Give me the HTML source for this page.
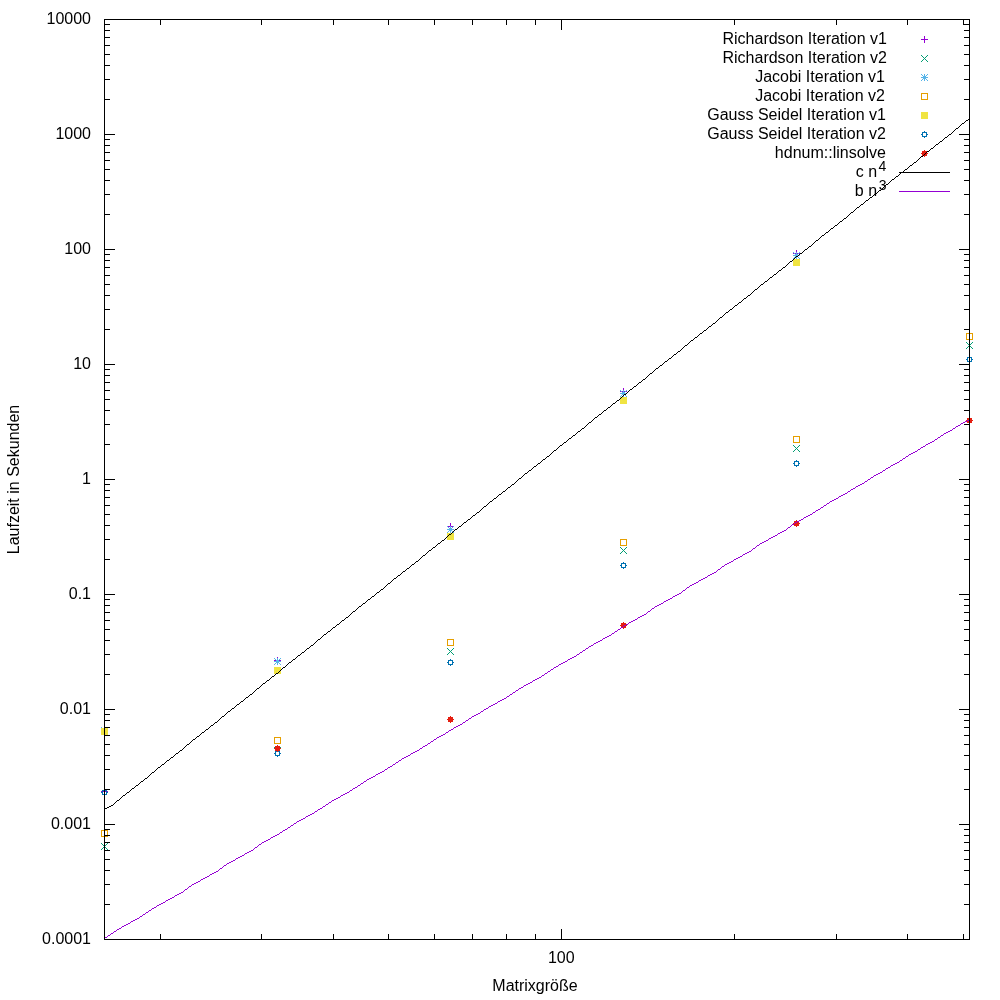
<!DOCTYPE html><html><head><meta charset="utf-8"><style>html,body{margin:0;padding:0;background:#fff;width:1000px;height:1000px;overflow:hidden}svg{display:block;will-change:transform}text{font-family:"Liberation Sans",sans-serif;font-size:16px;fill:#000}</style></head><body>
<svg width="1000" height="1000" viewBox="0 0 1000 1000">
<rect width="1000" height="1000" fill="#fff"/>
<path fill="#9400d3" d="M796 250h1v1h-1zM796 251h1v1h-1zM796 252h1v1h-1zM793 253h7v1h-7zM796 254h1v1h-1zM796 255h1v1h-1zM796 256h1v1h-1zM623 388h1v1h-1zM623 389h1v1h-1zM623 390h1v1h-1zM620 391h7v1h-7zM623 392h1v1h-1zM623 393h1v1h-1zM623 394h1v1h-1zM450 523h1v1h-1zM450 524h1v1h-1zM450 525h1v1h-1zM447 526h7v1h-7zM450 527h1v1h-1zM450 528h1v1h-1zM450 529h1v1h-1zM277 657h1v1h-1zM277 658h1v1h-1zM277 659h1v1h-1zM274 660h7v1h-7zM277 661h1v1h-1zM277 662h1v1h-1zM277 663h1v1h-1zM104 788h1v1h-1zM104 789h1v1h-1zM104 790h1v1h-1zM101 791h7v1h-7zM104 792h1v1h-1zM104 793h1v1h-1zM104 794h1v1h-1z"/>
<path fill="#009e73" d="M966 342h1v1h-1zM972 342h1v1h-1zM967 343h1v1h-1zM971 343h1v1h-1zM968 344h1v1h-1zM970 344h1v1h-1zM969 345h1v1h-1zM968 346h1v1h-1zM970 346h1v1h-1zM967 347h1v1h-1zM971 347h1v1h-1zM966 348h1v1h-1zM972 348h1v1h-1zM793 445h1v1h-1zM799 445h1v1h-1zM794 446h1v1h-1zM798 446h1v1h-1zM795 447h1v1h-1zM797 447h1v1h-1zM796 448h1v1h-1zM795 449h1v1h-1zM797 449h1v1h-1zM794 450h1v1h-1zM798 450h1v1h-1zM793 451h1v1h-1zM799 451h1v1h-1zM620 547h1v1h-1zM626 547h1v1h-1zM621 548h1v1h-1zM625 548h1v1h-1zM622 549h1v1h-1zM624 549h1v1h-1zM623 550h1v1h-1zM622 551h1v1h-1zM624 551h1v1h-1zM621 552h1v1h-1zM625 552h1v1h-1zM620 553h1v1h-1zM626 553h1v1h-1zM447 648h1v1h-1zM453 648h1v1h-1zM448 649h1v1h-1zM452 649h1v1h-1zM449 650h1v1h-1zM451 650h1v1h-1zM450 651h1v1h-1zM449 652h1v1h-1zM451 652h1v1h-1zM448 653h1v1h-1zM452 653h1v1h-1zM447 654h1v1h-1zM453 654h1v1h-1zM274 747h1v1h-1zM280 747h1v1h-1zM275 748h1v1h-1zM279 748h1v1h-1zM276 749h1v1h-1zM278 749h1v1h-1zM277 750h1v1h-1zM276 751h1v1h-1zM278 751h1v1h-1zM275 752h1v1h-1zM279 752h1v1h-1zM274 753h1v1h-1zM280 753h1v1h-1zM101 843h1v1h-1zM107 843h1v1h-1zM102 844h1v1h-1zM106 844h1v1h-1zM103 845h1v1h-1zM105 845h1v1h-1zM104 846h1v1h-1zM103 847h1v1h-1zM105 847h1v1h-1zM102 848h1v1h-1zM106 848h1v1h-1zM101 849h1v1h-1zM107 849h1v1h-1z"/>
<path fill="#56b4e9" d="M793 252h1v1h-1zM796 252h1v1h-1zM799 252h1v1h-1zM794 253h1v1h-1zM796 253h1v1h-1zM798 253h1v1h-1zM795 254h3v1h-3zM793 255h7v1h-7zM795 256h3v1h-3zM794 257h1v1h-1zM796 257h1v1h-1zM798 257h1v1h-1zM793 258h1v1h-1zM796 258h1v1h-1zM799 258h1v1h-1zM620 390h1v1h-1zM623 390h1v1h-1zM626 390h1v1h-1zM621 391h1v1h-1zM623 391h1v1h-1zM625 391h1v1h-1zM622 392h3v1h-3zM620 393h7v1h-7zM622 394h3v1h-3zM621 395h1v1h-1zM623 395h1v1h-1zM625 395h1v1h-1zM620 396h1v1h-1zM623 396h1v1h-1zM626 396h1v1h-1zM447 526h1v1h-1zM450 526h1v1h-1zM453 526h1v1h-1zM448 527h1v1h-1zM450 527h1v1h-1zM452 527h1v1h-1zM449 528h3v1h-3zM447 529h7v1h-7zM449 530h3v1h-3zM448 531h1v1h-1zM450 531h1v1h-1zM452 531h1v1h-1zM447 532h1v1h-1zM450 532h1v1h-1zM453 532h1v1h-1zM274 658h1v1h-1zM277 658h1v1h-1zM280 658h1v1h-1zM275 659h1v1h-1zM277 659h1v1h-1zM279 659h1v1h-1zM276 660h3v1h-3zM274 661h7v1h-7zM276 662h3v1h-3zM275 663h1v1h-1zM277 663h1v1h-1zM279 663h1v1h-1zM274 664h1v1h-1zM277 664h1v1h-1zM280 664h1v1h-1zM101 727h1v1h-1zM104 727h1v1h-1zM107 727h1v1h-1zM102 728h1v1h-1zM104 728h1v1h-1zM106 728h1v1h-1zM103 729h3v1h-3zM101 730h7v1h-7zM103 731h3v1h-3zM102 732h1v1h-1zM104 732h1v1h-1zM106 732h1v1h-1zM101 733h1v1h-1zM104 733h1v1h-1zM107 733h1v1h-1z"/>
<path fill="#e69f00" d="M966 333h7v1h-7zM966 334h1v1h-1zM972 334h1v1h-1zM966 335h1v1h-1zM972 335h1v1h-1zM966 336h1v1h-1zM972 336h1v1h-1zM966 337h1v1h-1zM972 337h1v1h-1zM966 338h1v1h-1zM972 338h1v1h-1zM966 339h7v1h-7zM793 436h7v1h-7zM793 437h1v1h-1zM799 437h1v1h-1zM793 438h1v1h-1zM799 438h1v1h-1zM793 439h1v1h-1zM799 439h1v1h-1zM793 440h1v1h-1zM799 440h1v1h-1zM793 441h1v1h-1zM799 441h1v1h-1zM793 442h7v1h-7zM620 539h7v1h-7zM620 540h1v1h-1zM626 540h1v1h-1zM620 541h1v1h-1zM626 541h1v1h-1zM620 542h1v1h-1zM626 542h1v1h-1zM620 543h1v1h-1zM626 543h1v1h-1zM620 544h1v1h-1zM626 544h1v1h-1zM620 545h7v1h-7zM447 639h7v1h-7zM447 640h1v1h-1zM453 640h1v1h-1zM447 641h1v1h-1zM453 641h1v1h-1zM447 642h1v1h-1zM453 642h1v1h-1zM447 643h1v1h-1zM453 643h1v1h-1zM447 644h1v1h-1zM453 644h1v1h-1zM447 645h7v1h-7zM274 737h7v1h-7zM274 738h1v1h-1zM280 738h1v1h-1zM274 739h1v1h-1zM280 739h1v1h-1zM274 740h1v1h-1zM280 740h1v1h-1zM274 741h1v1h-1zM280 741h1v1h-1zM274 742h1v1h-1zM280 742h1v1h-1zM274 743h7v1h-7zM101 830h7v1h-7zM101 831h1v1h-1zM107 831h1v1h-1zM101 832h1v1h-1zM107 832h1v1h-1zM101 833h1v1h-1zM107 833h1v1h-1zM101 834h1v1h-1zM107 834h1v1h-1zM101 835h1v1h-1zM107 835h1v1h-1zM101 836h7v1h-7z"/>
<path fill="#f0e442" d="M793 259h7v1h-7zM793 260h7v1h-7zM793 261h7v1h-7zM793 262h7v1h-7zM793 263h7v1h-7zM793 264h7v1h-7zM793 265h7v1h-7zM620 397h7v1h-7zM620 398h7v1h-7zM620 399h7v1h-7zM620 400h7v1h-7zM620 401h7v1h-7zM620 402h7v1h-7zM620 403h7v1h-7zM447 533h7v1h-7zM447 534h7v1h-7zM447 535h7v1h-7zM447 536h7v1h-7zM447 537h7v1h-7zM447 538h7v1h-7zM447 539h7v1h-7zM274 667h7v1h-7zM274 668h7v1h-7zM274 669h7v1h-7zM274 670h7v1h-7zM274 671h7v1h-7zM274 672h7v1h-7zM274 673h7v1h-7zM101 728h7v1h-7zM101 729h7v1h-7zM101 730h7v1h-7zM101 731h7v1h-7zM101 732h7v1h-7zM101 733h7v1h-7zM101 734h7v1h-7z"/>
<path fill="#0072b2" d="M969 356h1v1h-1zM967 357h5v1h-5zM967 358h1v1h-1zM971 358h1v1h-1zM966 359h2v1h-2zM971 359h2v1h-2zM967 360h1v1h-1zM971 360h1v1h-1zM967 361h5v1h-5zM969 362h1v1h-1zM796 460h1v1h-1zM794 461h5v1h-5zM794 462h1v1h-1zM798 462h1v1h-1zM793 463h2v1h-2zM798 463h2v1h-2zM794 464h1v1h-1zM798 464h1v1h-1zM794 465h5v1h-5zM796 466h1v1h-1zM623 562h1v1h-1zM621 563h5v1h-5zM621 564h1v1h-1zM625 564h1v1h-1zM620 565h2v1h-2zM625 565h2v1h-2zM621 566h1v1h-1zM625 566h1v1h-1zM621 567h5v1h-5zM623 568h1v1h-1zM450 659h1v1h-1zM448 660h5v1h-5zM448 661h1v1h-1zM452 661h1v1h-1zM447 662h2v1h-2zM452 662h2v1h-2zM448 663h1v1h-1zM452 663h1v1h-1zM448 664h5v1h-5zM450 665h1v1h-1zM277 750h1v1h-1zM275 751h5v1h-5zM275 752h1v1h-1zM279 752h1v1h-1zM274 753h2v1h-2zM279 753h2v1h-2zM275 754h1v1h-1zM279 754h1v1h-1zM275 755h5v1h-5zM277 756h1v1h-1zM104 789h1v1h-1zM102 790h5v1h-5zM102 791h1v1h-1zM106 791h1v1h-1zM101 792h2v1h-2zM106 792h2v1h-2zM102 793h1v1h-1zM106 793h1v1h-1zM102 794h5v1h-5zM104 795h1v1h-1z"/>
<path fill="#e51e10" d="M969 417h1v1h-1zM967 418h5v1h-5zM967 419h5v1h-5zM966 420h7v1h-7zM967 421h5v1h-5zM967 422h5v1h-5zM969 423h1v1h-1zM796 520h1v1h-1zM794 521h5v1h-5zM794 522h5v1h-5zM793 523h7v1h-7zM794 524h5v1h-5zM794 525h5v1h-5zM796 526h1v1h-1zM623 622h1v1h-1zM621 623h5v1h-5zM621 624h5v1h-5zM620 625h7v1h-7zM621 626h5v1h-5zM621 627h5v1h-5zM623 628h1v1h-1zM450 716h1v1h-1zM448 717h5v1h-5zM448 718h5v1h-5zM447 719h7v1h-7zM448 720h5v1h-5zM448 721h5v1h-5zM450 722h1v1h-1zM277 745h1v1h-1zM275 746h5v1h-5zM275 747h5v1h-5zM274 748h7v1h-7zM275 749h5v1h-5zM275 750h5v1h-5zM277 751h1v1h-1z"/>
<path fill="#9400d3" d="M924 36h1v1h-1zM924 37h1v1h-1zM924 38h1v1h-1zM921 39h7v1h-7zM924 40h1v1h-1zM924 41h1v1h-1zM924 42h1v1h-1z"/>
<path fill="#009e73" d="M921 55h1v1h-1zM927 55h1v1h-1zM922 56h1v1h-1zM926 56h1v1h-1zM923 57h1v1h-1zM925 57h1v1h-1zM924 58h1v1h-1zM923 59h1v1h-1zM925 59h1v1h-1zM922 60h1v1h-1zM926 60h1v1h-1zM921 61h1v1h-1zM927 61h1v1h-1z"/>
<path fill="#56b4e9" d="M921 74h1v1h-1zM924 74h1v1h-1zM927 74h1v1h-1zM922 75h1v1h-1zM924 75h1v1h-1zM926 75h1v1h-1zM923 76h3v1h-3zM921 77h7v1h-7zM923 78h3v1h-3zM922 79h1v1h-1zM924 79h1v1h-1zM926 79h1v1h-1zM921 80h1v1h-1zM924 80h1v1h-1zM927 80h1v1h-1z"/>
<path fill="#e69f00" d="M921 93h7v1h-7zM921 94h1v1h-1zM927 94h1v1h-1zM921 95h1v1h-1zM927 95h1v1h-1zM921 96h1v1h-1zM927 96h1v1h-1zM921 97h1v1h-1zM927 97h1v1h-1zM921 98h1v1h-1zM927 98h1v1h-1zM921 99h7v1h-7z"/>
<path fill="#f0e442" d="M921 112h7v1h-7zM921 113h7v1h-7zM921 114h7v1h-7zM921 115h7v1h-7zM921 116h7v1h-7zM921 117h7v1h-7zM921 118h7v1h-7z"/>
<path fill="#0072b2" d="M924 131h1v1h-1zM922 132h5v1h-5zM922 133h1v1h-1zM926 133h1v1h-1zM921 134h2v1h-2zM926 134h2v1h-2zM922 135h1v1h-1zM926 135h1v1h-1zM922 136h5v1h-5zM924 137h1v1h-1z"/>
<path fill="#e51e10" d="M924 150h1v1h-1zM922 151h5v1h-5zM922 152h5v1h-5zM921 153h7v1h-7zM922 154h5v1h-5zM922 155h5v1h-5zM924 156h1v1h-1z"/>
<path fill="#000" d="M969 118h1v1h-1zM968 119h1v1h-1zM966 120h2v1h-2zM965 121h1v1h-1zM964 122h1v1h-1zM962 123h2v1h-2zM961 124h1v1h-1zM960 125h1v1h-1zM959 126h1v1h-1zM958 127h1v1h-1zM956 128h2v1h-2zM955 129h1v1h-1zM954 130h1v1h-1zM953 131h1v1h-1zM952 132h1v1h-1zM951 133h1v1h-1zM949 134h2v1h-2zM948 135h1v1h-1zM947 136h1v1h-1zM945 137h2v1h-2zM944 138h1v1h-1zM943 139h1v1h-1zM942 140h1v1h-1zM940 141h2v1h-2zM939 142h1v1h-1zM938 143h1v1h-1zM936 144h2v1h-2zM935 145h1v1h-1zM934 146h1v1h-1zM933 147h1v1h-1zM931 148h2v1h-2zM930 149h1v1h-1zM929 150h1v1h-1zM927 151h2v1h-2zM926 152h1v1h-1zM925 153h1v1h-1zM924 154h1v1h-1zM923 155h1v1h-1zM921 156h2v1h-2zM920 157h1v1h-1zM919 158h1v1h-1zM918 159h1v1h-1zM917 160h1v1h-1zM916 161h1v1h-1zM914 162h2v1h-2zM913 163h1v1h-1zM912 164h1v1h-1zM910 165h2v1h-2zM909 166h1v1h-1zM908 167h1v1h-1zM907 168h1v1h-1zM905 169h2v1h-2zM904 170h1v1h-1zM903 171h1v1h-1zM899 172h51v1h-51zM900 173h1v1h-1zM899 174h1v1h-1zM898 175h1v1h-1zM896 176h2v1h-2zM895 177h1v1h-1zM894 178h1v1h-1zM892 179h2v1h-2zM891 180h1v1h-1zM890 181h1v1h-1zM889 182h1v1h-1zM888 183h1v1h-1zM886 184h2v1h-2zM885 185h1v1h-1zM884 186h1v1h-1zM883 187h1v1h-1zM882 188h1v1h-1zM881 189h1v1h-1zM879 190h2v1h-2zM878 191h1v1h-1zM877 192h1v1h-1zM875 193h2v1h-2zM874 194h1v1h-1zM873 195h1v1h-1zM872 196h1v1h-1zM870 197h2v1h-2zM869 198h1v1h-1zM868 199h1v1h-1zM866 200h2v1h-2zM865 201h1v1h-1zM864 202h1v1h-1zM863 203h1v1h-1zM861 204h2v1h-2zM860 205h1v1h-1zM859 206h1v1h-1zM857 207h2v1h-2zM856 208h1v1h-1zM855 209h1v1h-1zM854 210h1v1h-1zM853 211h1v1h-1zM851 212h2v1h-2zM850 213h1v1h-1zM849 214h1v1h-1zM848 215h1v1h-1zM847 216h1v1h-1zM846 217h1v1h-1zM844 218h2v1h-2zM843 219h1v1h-1zM842 220h1v1h-1zM840 221h2v1h-2zM839 222h1v1h-1zM838 223h1v1h-1zM837 224h1v1h-1zM835 225h2v1h-2zM834 226h1v1h-1zM833 227h1v1h-1zM831 228h2v1h-2zM830 229h1v1h-1zM829 230h1v1h-1zM828 231h1v1h-1zM826 232h2v1h-2zM825 233h1v1h-1zM824 234h1v1h-1zM822 235h2v1h-2zM821 236h1v1h-1zM820 237h1v1h-1zM819 238h1v1h-1zM818 239h1v1h-1zM816 240h2v1h-2zM815 241h1v1h-1zM814 242h1v1h-1zM813 243h1v1h-1zM812 244h1v1h-1zM811 245h1v1h-1zM809 246h2v1h-2zM808 247h1v1h-1zM807 248h1v1h-1zM805 249h2v1h-2zM804 250h1v1h-1zM803 251h1v1h-1zM802 252h1v1h-1zM800 253h2v1h-2zM799 254h1v1h-1zM798 255h1v1h-1zM796 256h2v1h-2zM795 257h1v1h-1zM794 258h1v1h-1zM793 259h1v1h-1zM792 260h1v1h-1zM790 261h2v1h-2zM789 262h1v1h-1zM788 263h1v1h-1zM787 264h1v1h-1zM786 265h1v1h-1zM785 266h1v1h-1zM783 267h2v1h-2zM782 268h1v1h-1zM781 269h1v1h-1zM779 270h2v1h-2zM778 271h1v1h-1zM777 272h1v1h-1zM776 273h1v1h-1zM774 274h2v1h-2zM773 275h1v1h-1zM772 276h1v1h-1zM770 277h2v1h-2zM769 278h1v1h-1zM768 279h1v1h-1zM767 280h1v1h-1zM765 281h2v1h-2zM764 282h1v1h-1zM763 283h1v1h-1zM761 284h2v1h-2zM760 285h1v1h-1zM759 286h1v1h-1zM758 287h1v1h-1zM757 288h1v1h-1zM755 289h2v1h-2zM754 290h1v1h-1zM753 291h1v1h-1zM752 292h1v1h-1zM751 293h1v1h-1zM750 294h1v1h-1zM748 295h2v1h-2zM747 296h1v1h-1zM746 297h1v1h-1zM744 298h2v1h-2zM743 299h1v1h-1zM742 300h1v1h-1zM741 301h1v1h-1zM739 302h2v1h-2zM738 303h1v1h-1zM737 304h1v1h-1zM735 305h2v1h-2zM734 306h1v1h-1zM733 307h1v1h-1zM732 308h1v1h-1zM730 309h2v1h-2zM729 310h1v1h-1zM728 311h1v1h-1zM726 312h2v1h-2zM725 313h1v1h-1zM724 314h1v1h-1zM723 315h1v1h-1zM722 316h1v1h-1zM720 317h2v1h-2zM719 318h1v1h-1zM718 319h1v1h-1zM717 320h1v1h-1zM716 321h1v1h-1zM715 322h1v1h-1zM713 323h2v1h-2zM712 324h1v1h-1zM711 325h1v1h-1zM709 326h2v1h-2zM708 327h1v1h-1zM707 328h1v1h-1zM706 329h1v1h-1zM704 330h2v1h-2zM703 331h1v1h-1zM702 332h1v1h-1zM700 333h2v1h-2zM699 334h1v1h-1zM698 335h1v1h-1zM697 336h1v1h-1zM695 337h2v1h-2zM694 338h1v1h-1zM693 339h1v1h-1zM691 340h2v1h-2zM690 341h1v1h-1zM689 342h1v1h-1zM688 343h1v1h-1zM687 344h1v1h-1zM685 345h2v1h-2zM684 346h1v1h-1zM683 347h1v1h-1zM682 348h1v1h-1zM681 349h1v1h-1zM680 350h1v1h-1zM678 351h2v1h-2zM677 352h1v1h-1zM676 353h1v1h-1zM674 354h2v1h-2zM673 355h1v1h-1zM672 356h1v1h-1zM671 357h1v1h-1zM669 358h2v1h-2zM668 359h1v1h-1zM667 360h1v1h-1zM665 361h2v1h-2zM664 362h1v1h-1zM663 363h1v1h-1zM662 364h1v1h-1zM660 365h2v1h-2zM659 366h1v1h-1zM658 367h1v1h-1zM656 368h2v1h-2zM655 369h1v1h-1zM654 370h1v1h-1zM653 371h1v1h-1zM652 372h1v1h-1zM650 373h2v1h-2zM649 374h1v1h-1zM648 375h1v1h-1zM647 376h1v1h-1zM646 377h1v1h-1zM645 378h1v1h-1zM643 379h2v1h-2zM642 380h1v1h-1zM641 381h1v1h-1zM639 382h2v1h-2zM638 383h1v1h-1zM637 384h1v1h-1zM636 385h1v1h-1zM634 386h2v1h-2zM633 387h1v1h-1zM632 388h1v1h-1zM630 389h2v1h-2zM629 390h1v1h-1zM628 391h1v1h-1zM627 392h1v1h-1zM626 393h1v1h-1zM624 394h2v1h-2zM623 395h1v1h-1zM622 396h1v1h-1zM621 397h1v1h-1zM620 398h1v1h-1zM619 399h1v1h-1zM617 400h2v1h-2zM616 401h1v1h-1zM615 402h1v1h-1zM613 403h2v1h-2zM612 404h1v1h-1zM611 405h1v1h-1zM610 406h1v1h-1zM608 407h2v1h-2zM607 408h1v1h-1zM606 409h1v1h-1zM604 410h2v1h-2zM603 411h1v1h-1zM602 412h1v1h-1zM601 413h1v1h-1zM599 414h2v1h-2zM598 415h1v1h-1zM597 416h1v1h-1zM595 417h2v1h-2zM594 418h1v1h-1zM593 419h1v1h-1zM592 420h1v1h-1zM591 421h1v1h-1zM589 422h2v1h-2zM588 423h1v1h-1zM587 424h1v1h-1zM586 425h1v1h-1zM585 426h1v1h-1zM584 427h1v1h-1zM582 428h2v1h-2zM581 429h1v1h-1zM580 430h1v1h-1zM578 431h2v1h-2zM577 432h1v1h-1zM576 433h1v1h-1zM575 434h1v1h-1zM573 435h2v1h-2zM572 436h1v1h-1zM571 437h1v1h-1zM569 438h2v1h-2zM568 439h1v1h-1zM567 440h1v1h-1zM566 441h1v1h-1zM564 442h2v1h-2zM563 443h1v1h-1zM562 444h1v1h-1zM560 445h2v1h-2zM559 446h1v1h-1zM558 447h1v1h-1zM557 448h1v1h-1zM556 449h1v1h-1zM554 450h2v1h-2zM553 451h1v1h-1zM552 452h1v1h-1zM551 453h1v1h-1zM550 454h1v1h-1zM549 455h1v1h-1zM547 456h2v1h-2zM546 457h1v1h-1zM545 458h1v1h-1zM543 459h2v1h-2zM542 460h1v1h-1zM541 461h1v1h-1zM540 462h1v1h-1zM538 463h2v1h-2zM537 464h1v1h-1zM536 465h1v1h-1zM534 466h2v1h-2zM533 467h1v1h-1zM532 468h1v1h-1zM531 469h1v1h-1zM529 470h2v1h-2zM528 471h1v1h-1zM527 472h1v1h-1zM525 473h2v1h-2zM524 474h1v1h-1zM523 475h1v1h-1zM522 476h1v1h-1zM521 477h1v1h-1zM519 478h2v1h-2zM518 479h1v1h-1zM517 480h1v1h-1zM516 481h1v1h-1zM515 482h1v1h-1zM514 483h1v1h-1zM512 484h2v1h-2zM511 485h1v1h-1zM510 486h1v1h-1zM508 487h2v1h-2zM507 488h1v1h-1zM506 489h1v1h-1zM505 490h1v1h-1zM503 491h2v1h-2zM502 492h1v1h-1zM501 493h1v1h-1zM499 494h2v1h-2zM498 495h1v1h-1zM497 496h1v1h-1zM496 497h1v1h-1zM494 498h2v1h-2zM493 499h1v1h-1zM492 500h1v1h-1zM490 501h2v1h-2zM489 502h1v1h-1zM488 503h1v1h-1zM487 504h1v1h-1zM486 505h1v1h-1zM484 506h2v1h-2zM483 507h1v1h-1zM482 508h1v1h-1zM481 509h1v1h-1zM480 510h1v1h-1zM479 511h1v1h-1zM477 512h2v1h-2zM476 513h1v1h-1zM475 514h1v1h-1zM473 515h2v1h-2zM472 516h1v1h-1zM471 517h1v1h-1zM470 518h1v1h-1zM468 519h2v1h-2zM467 520h1v1h-1zM466 521h1v1h-1zM464 522h2v1h-2zM463 523h1v1h-1zM462 524h1v1h-1zM461 525h1v1h-1zM459 526h2v1h-2zM458 527h1v1h-1zM457 528h1v1h-1zM455 529h2v1h-2zM454 530h1v1h-1zM453 531h1v1h-1zM452 532h1v1h-1zM451 533h1v1h-1zM449 534h2v1h-2zM448 535h1v1h-1zM447 536h1v1h-1zM446 537h1v1h-1zM445 538h1v1h-1zM444 539h1v1h-1zM442 540h2v1h-2zM441 541h1v1h-1zM440 542h1v1h-1zM438 543h2v1h-2zM437 544h1v1h-1zM436 545h1v1h-1zM435 546h1v1h-1zM433 547h2v1h-2zM432 548h1v1h-1zM431 549h1v1h-1zM429 550h2v1h-2zM428 551h1v1h-1zM427 552h1v1h-1zM426 553h1v1h-1zM425 554h1v1h-1zM423 555h2v1h-2zM422 556h1v1h-1zM421 557h1v1h-1zM420 558h1v1h-1zM419 559h1v1h-1zM418 560h1v1h-1zM416 561h2v1h-2zM415 562h1v1h-1zM414 563h1v1h-1zM412 564h2v1h-2zM411 565h1v1h-1zM410 566h1v1h-1zM409 567h1v1h-1zM407 568h2v1h-2zM406 569h1v1h-1zM405 570h1v1h-1zM403 571h2v1h-2zM402 572h1v1h-1zM401 573h1v1h-1zM400 574h1v1h-1zM398 575h2v1h-2zM397 576h1v1h-1zM396 577h1v1h-1zM394 578h2v1h-2zM393 579h1v1h-1zM392 580h1v1h-1zM391 581h1v1h-1zM390 582h1v1h-1zM388 583h2v1h-2zM387 584h1v1h-1zM386 585h1v1h-1zM385 586h1v1h-1zM384 587h1v1h-1zM383 588h1v1h-1zM381 589h2v1h-2zM380 590h1v1h-1zM379 591h1v1h-1zM377 592h2v1h-2zM376 593h1v1h-1zM375 594h1v1h-1zM374 595h1v1h-1zM372 596h2v1h-2zM371 597h1v1h-1zM370 598h1v1h-1zM368 599h2v1h-2zM367 600h1v1h-1zM366 601h1v1h-1zM365 602h1v1h-1zM363 603h2v1h-2zM362 604h1v1h-1zM361 605h1v1h-1zM359 606h2v1h-2zM358 607h1v1h-1zM357 608h1v1h-1zM356 609h1v1h-1zM355 610h1v1h-1zM353 611h2v1h-2zM352 612h1v1h-1zM351 613h1v1h-1zM350 614h1v1h-1zM349 615h1v1h-1zM348 616h1v1h-1zM346 617h2v1h-2zM345 618h1v1h-1zM344 619h1v1h-1zM342 620h2v1h-2zM341 621h1v1h-1zM340 622h1v1h-1zM339 623h1v1h-1zM337 624h2v1h-2zM336 625h1v1h-1zM335 626h1v1h-1zM333 627h2v1h-2zM332 628h1v1h-1zM331 629h1v1h-1zM330 630h1v1h-1zM328 631h2v1h-2zM327 632h1v1h-1zM326 633h1v1h-1zM324 634h2v1h-2zM323 635h1v1h-1zM322 636h1v1h-1zM321 637h1v1h-1zM320 638h1v1h-1zM318 639h2v1h-2zM317 640h1v1h-1zM316 641h1v1h-1zM315 642h1v1h-1zM314 643h1v1h-1zM313 644h1v1h-1zM311 645h2v1h-2zM310 646h1v1h-1zM309 647h1v1h-1zM307 648h2v1h-2zM306 649h1v1h-1zM305 650h1v1h-1zM304 651h1v1h-1zM302 652h2v1h-2zM301 653h1v1h-1zM300 654h1v1h-1zM298 655h2v1h-2zM297 656h1v1h-1zM296 657h1v1h-1zM295 658h1v1h-1zM293 659h2v1h-2zM292 660h1v1h-1zM291 661h1v1h-1zM289 662h2v1h-2zM288 663h1v1h-1zM287 664h1v1h-1zM286 665h1v1h-1zM285 666h1v1h-1zM283 667h2v1h-2zM282 668h1v1h-1zM281 669h1v1h-1zM280 670h1v1h-1zM279 671h1v1h-1zM278 672h1v1h-1zM276 673h2v1h-2zM275 674h1v1h-1zM274 675h1v1h-1zM272 676h2v1h-2zM271 677h1v1h-1zM270 678h1v1h-1zM269 679h1v1h-1zM267 680h2v1h-2zM266 681h1v1h-1zM265 682h1v1h-1zM263 683h2v1h-2zM262 684h1v1h-1zM261 685h1v1h-1zM260 686h1v1h-1zM259 687h1v1h-1zM257 688h2v1h-2zM256 689h1v1h-1zM255 690h1v1h-1zM254 691h1v1h-1zM253 692h1v1h-1zM252 693h1v1h-1zM250 694h2v1h-2zM249 695h1v1h-1zM248 696h1v1h-1zM246 697h2v1h-2zM245 698h1v1h-1zM244 699h1v1h-1zM243 700h1v1h-1zM241 701h2v1h-2zM240 702h1v1h-1zM239 703h1v1h-1zM237 704h2v1h-2zM236 705h1v1h-1zM235 706h1v1h-1zM234 707h1v1h-1zM232 708h2v1h-2zM231 709h1v1h-1zM230 710h1v1h-1zM228 711h2v1h-2zM227 712h1v1h-1zM226 713h1v1h-1zM225 714h1v1h-1zM224 715h1v1h-1zM222 716h2v1h-2zM221 717h1v1h-1zM220 718h1v1h-1zM219 719h1v1h-1zM218 720h1v1h-1zM217 721h1v1h-1zM215 722h2v1h-2zM214 723h1v1h-1zM213 724h1v1h-1zM211 725h2v1h-2zM210 726h1v1h-1zM209 727h1v1h-1zM208 728h1v1h-1zM206 729h2v1h-2zM205 730h1v1h-1zM204 731h1v1h-1zM202 732h2v1h-2zM201 733h1v1h-1zM200 734h1v1h-1zM199 735h1v1h-1zM197 736h2v1h-2zM196 737h1v1h-1zM195 738h1v1h-1zM193 739h2v1h-2zM192 740h1v1h-1zM191 741h1v1h-1zM190 742h1v1h-1zM189 743h1v1h-1zM187 744h2v1h-2zM186 745h1v1h-1zM185 746h1v1h-1zM184 747h1v1h-1zM183 748h1v1h-1zM182 749h1v1h-1zM180 750h2v1h-2zM179 751h1v1h-1zM178 752h1v1h-1zM176 753h2v1h-2zM175 754h1v1h-1zM174 755h1v1h-1zM173 756h1v1h-1zM171 757h2v1h-2zM170 758h1v1h-1zM169 759h1v1h-1zM167 760h2v1h-2zM166 761h1v1h-1zM165 762h1v1h-1zM164 763h1v1h-1zM162 764h2v1h-2zM161 765h1v1h-1zM160 766h1v1h-1zM158 767h2v1h-2zM157 768h1v1h-1zM156 769h1v1h-1zM155 770h1v1h-1zM154 771h1v1h-1zM152 772h2v1h-2zM151 773h1v1h-1zM150 774h1v1h-1zM149 775h1v1h-1zM148 776h1v1h-1zM147 777h1v1h-1zM145 778h2v1h-2zM144 779h1v1h-1zM143 780h1v1h-1zM141 781h2v1h-2zM140 782h1v1h-1zM139 783h1v1h-1zM138 784h1v1h-1zM136 785h2v1h-2zM135 786h1v1h-1zM134 787h1v1h-1zM132 788h2v1h-2zM131 789h1v1h-1zM130 790h1v1h-1zM129 791h1v1h-1zM127 792h2v1h-2zM126 793h1v1h-1zM125 794h1v1h-1zM123 795h2v1h-2zM122 796h1v1h-1zM121 797h1v1h-1zM120 798h1v1h-1zM119 799h1v1h-1zM117 800h2v1h-2zM116 801h1v1h-1zM115 802h1v1h-1zM114 803h1v1h-1zM113 804h1v1h-1zM111 805h2v1h-2zM109 806h2v1h-2zM107 807h2v1h-2zM105 808h2v1h-2zM104 809h1v1h-1z"/>
<path fill="#9400d3" d="M899 191h51v1h-51zM969 419h1v1h-1zM967 420h2v1h-2zM965 421h2v1h-2zM963 422h2v1h-2zM961 423h2v1h-2zM960 424h1v1h-1zM958 425h2v1h-2zM956 426h2v1h-2zM955 427h1v1h-1zM953 428h2v1h-2zM952 429h1v1h-1zM950 430h2v1h-2zM948 431h2v1h-2zM946 432h2v1h-2zM944 433h2v1h-2zM943 434h1v1h-1zM941 435h2v1h-2zM940 436h1v1h-1zM938 437h2v1h-2zM937 438h1v1h-1zM935 439h2v1h-2zM934 440h1v1h-1zM932 441h2v1h-2zM930 442h2v1h-2zM928 443h2v1h-2zM926 444h2v1h-2zM925 445h1v1h-1zM923 446h2v1h-2zM921 447h2v1h-2zM920 448h1v1h-1zM918 449h2v1h-2zM917 450h1v1h-1zM915 451h2v1h-2zM913 452h2v1h-2zM911 453h2v1h-2zM909 454h2v1h-2zM908 455h1v1h-1zM906 456h2v1h-2zM905 457h1v1h-1zM903 458h2v1h-2zM902 459h1v1h-1zM900 460h2v1h-2zM899 461h1v1h-1zM897 462h2v1h-2zM895 463h2v1h-2zM893 464h2v1h-2zM891 465h2v1h-2zM890 466h1v1h-1zM888 467h2v1h-2zM886 468h2v1h-2zM885 469h1v1h-1zM883 470h2v1h-2zM882 471h1v1h-1zM880 472h2v1h-2zM878 473h2v1h-2zM876 474h2v1h-2zM874 475h2v1h-2zM873 476h1v1h-1zM871 477h2v1h-2zM870 478h1v1h-1zM868 479h2v1h-2zM867 480h1v1h-1zM865 481h2v1h-2zM864 482h1v1h-1zM862 483h2v1h-2zM860 484h2v1h-2zM858 485h2v1h-2zM856 486h2v1h-2zM855 487h1v1h-1zM853 488h2v1h-2zM851 489h2v1h-2zM850 490h1v1h-1zM848 491h2v1h-2zM847 492h1v1h-1zM845 493h2v1h-2zM843 494h2v1h-2zM841 495h2v1h-2zM839 496h2v1h-2zM838 497h1v1h-1zM836 498h2v1h-2zM834 499h2v1h-2zM832 500h2v1h-2zM830 501h2v1h-2zM829 502h1v1h-1zM827 503h2v1h-2zM826 504h1v1h-1zM824 505h2v1h-2zM823 506h1v1h-1zM821 507h2v1h-2zM820 508h1v1h-1zM818 509h2v1h-2zM816 510h2v1h-2zM815 511h1v1h-1zM813 512h2v1h-2zM812 513h1v1h-1zM810 514h2v1h-2zM808 515h2v1h-2zM806 516h2v1h-2zM804 517h2v1h-2zM803 518h1v1h-1zM801 519h2v1h-2zM799 520h2v1h-2zM797 521h2v1h-2zM795 522h2v1h-2zM794 523h1v1h-1zM792 524h2v1h-2zM791 525h1v1h-1zM790 526h1v1h-1zM788 527h2v1h-2zM787 528h1v1h-1zM786 529h1v1h-1zM784 530h2v1h-2zM782 531h2v1h-2zM780 532h2v1h-2zM778 533h2v1h-2zM777 534h1v1h-1zM775 535h2v1h-2zM773 536h2v1h-2zM771 537h2v1h-2zM769 538h2v1h-2zM768 539h1v1h-1zM766 540h2v1h-2zM764 541h2v1h-2zM762 542h2v1h-2zM760 543h2v1h-2zM759 544h1v1h-1zM757 545h2v1h-2zM756 546h1v1h-1zM755 547h1v1h-1zM753 548h2v1h-2zM752 549h1v1h-1zM751 550h1v1h-1zM749 551h2v1h-2zM747 552h2v1h-2zM745 553h2v1h-2zM743 554h2v1h-2zM742 555h1v1h-1zM740 556h2v1h-2zM738 557h2v1h-2zM736 558h2v1h-2zM734 559h2v1h-2zM733 560h1v1h-1zM731 561h2v1h-2zM729 562h2v1h-2zM727 563h2v1h-2zM725 564h2v1h-2zM724 565h1v1h-1zM722 566h2v1h-2zM721 567h1v1h-1zM720 568h1v1h-1zM718 569h2v1h-2zM717 570h1v1h-1zM716 571h1v1h-1zM714 572h2v1h-2zM712 573h2v1h-2zM710 574h2v1h-2zM708 575h2v1h-2zM707 576h1v1h-1zM705 577h2v1h-2zM703 578h2v1h-2zM701 579h2v1h-2zM699 580h2v1h-2zM698 581h1v1h-1zM696 582h2v1h-2zM694 583h2v1h-2zM692 584h2v1h-2zM690 585h2v1h-2zM689 586h1v1h-1zM687 587h2v1h-2zM686 588h1v1h-1zM685 589h1v1h-1zM683 590h2v1h-2zM682 591h1v1h-1zM681 592h1v1h-1zM679 593h2v1h-2zM677 594h2v1h-2zM675 595h2v1h-2zM673 596h2v1h-2zM672 597h1v1h-1zM670 598h2v1h-2zM668 599h2v1h-2zM666 600h2v1h-2zM664 601h2v1h-2zM663 602h1v1h-1zM661 603h2v1h-2zM659 604h2v1h-2zM657 605h2v1h-2zM655 606h2v1h-2zM654 607h1v1h-1zM652 608h2v1h-2zM651 609h1v1h-1zM650 610h1v1h-1zM648 611h2v1h-2zM647 612h1v1h-1zM646 613h1v1h-1zM644 614h2v1h-2zM642 615h2v1h-2zM640 616h2v1h-2zM638 617h2v1h-2zM637 618h1v1h-1zM635 619h2v1h-2zM633 620h2v1h-2zM631 621h2v1h-2zM629 622h2v1h-2zM628 623h1v1h-1zM626 624h2v1h-2zM624 625h2v1h-2zM623 626h1v1h-1zM621 627h2v1h-2zM620 628h1v1h-1zM618 629h2v1h-2zM617 630h1v1h-1zM615 631h2v1h-2zM614 632h1v1h-1zM612 633h2v1h-2zM611 634h1v1h-1zM609 635h2v1h-2zM607 636h2v1h-2zM605 637h2v1h-2zM603 638h2v1h-2zM602 639h1v1h-1zM600 640h2v1h-2zM598 641h2v1h-2zM596 642h2v1h-2zM594 643h2v1h-2zM593 644h1v1h-1zM591 645h2v1h-2zM589 646h2v1h-2zM588 647h1v1h-1zM586 648h2v1h-2zM585 649h1v1h-1zM583 650h2v1h-2zM582 651h1v1h-1zM580 652h2v1h-2zM579 653h1v1h-1zM577 654h2v1h-2zM576 655h1v1h-1zM574 656h2v1h-2zM572 657h2v1h-2zM570 658h2v1h-2zM568 659h2v1h-2zM567 660h1v1h-1zM565 661h2v1h-2zM563 662h2v1h-2zM561 663h2v1h-2zM559 664h2v1h-2zM558 665h1v1h-1zM556 666h2v1h-2zM554 667h2v1h-2zM553 668h1v1h-1zM551 669h2v1h-2zM550 670h1v1h-1zM548 671h2v1h-2zM547 672h1v1h-1zM545 673h2v1h-2zM544 674h1v1h-1zM542 675h2v1h-2zM541 676h1v1h-1zM539 677h2v1h-2zM537 678h2v1h-2zM535 679h2v1h-2zM533 680h2v1h-2zM532 681h1v1h-1zM530 682h2v1h-2zM528 683h2v1h-2zM526 684h2v1h-2zM524 685h2v1h-2zM523 686h1v1h-1zM521 687h2v1h-2zM519 688h2v1h-2zM518 689h1v1h-1zM516 690h2v1h-2zM515 691h1v1h-1zM513 692h2v1h-2zM512 693h1v1h-1zM510 694h2v1h-2zM509 695h1v1h-1zM507 696h2v1h-2zM506 697h1v1h-1zM504 698h2v1h-2zM502 699h2v1h-2zM500 700h2v1h-2zM498 701h2v1h-2zM497 702h1v1h-1zM495 703h2v1h-2zM493 704h2v1h-2zM491 705h2v1h-2zM489 706h2v1h-2zM488 707h1v1h-1zM486 708h2v1h-2zM484 709h2v1h-2zM483 710h1v1h-1zM481 711h2v1h-2zM480 712h1v1h-1zM478 713h2v1h-2zM476 714h2v1h-2zM474 715h2v1h-2zM472 716h2v1h-2zM471 717h1v1h-1zM469 718h2v1h-2zM468 719h1v1h-1zM466 720h2v1h-2zM465 721h1v1h-1zM463 722h2v1h-2zM462 723h1v1h-1zM460 724h2v1h-2zM458 725h2v1h-2zM456 726h2v1h-2zM454 727h2v1h-2zM453 728h1v1h-1zM451 729h2v1h-2zM449 730h2v1h-2zM448 731h1v1h-1zM446 732h2v1h-2zM445 733h1v1h-1zM443 734h2v1h-2zM441 735h2v1h-2zM439 736h2v1h-2zM437 737h2v1h-2zM436 738h1v1h-1zM434 739h2v1h-2zM433 740h1v1h-1zM431 741h2v1h-2zM430 742h1v1h-1zM428 743h2v1h-2zM427 744h1v1h-1zM425 745h2v1h-2zM423 746h2v1h-2zM422 747h1v1h-1zM420 748h2v1h-2zM419 749h1v1h-1zM417 750h2v1h-2zM415 751h2v1h-2zM413 752h2v1h-2zM411 753h2v1h-2zM410 754h1v1h-1zM408 755h2v1h-2zM406 756h2v1h-2zM404 757h2v1h-2zM402 758h2v1h-2zM401 759h1v1h-1zM399 760h2v1h-2zM398 761h1v1h-1zM396 762h2v1h-2zM395 763h1v1h-1zM393 764h2v1h-2zM392 765h1v1h-1zM390 766h2v1h-2zM388 767h2v1h-2zM387 768h1v1h-1zM385 769h2v1h-2zM384 770h1v1h-1zM382 771h2v1h-2zM380 772h2v1h-2zM378 773h2v1h-2zM376 774h2v1h-2zM375 775h1v1h-1zM373 776h2v1h-2zM371 777h2v1h-2zM369 778h2v1h-2zM367 779h2v1h-2zM366 780h1v1h-1zM364 781h2v1h-2zM363 782h1v1h-1zM361 783h2v1h-2zM360 784h1v1h-1zM358 785h2v1h-2zM357 786h1v1h-1zM355 787h2v1h-2zM353 788h2v1h-2zM352 789h1v1h-1zM350 790h2v1h-2zM349 791h1v1h-1zM347 792h2v1h-2zM345 793h2v1h-2zM343 794h2v1h-2zM341 795h2v1h-2zM340 796h1v1h-1zM338 797h2v1h-2zM336 798h2v1h-2zM334 799h2v1h-2zM332 800h2v1h-2zM331 801h1v1h-1zM329 802h2v1h-2zM328 803h1v1h-1zM326 804h2v1h-2zM325 805h1v1h-1zM323 806h2v1h-2zM322 807h1v1h-1zM320 808h2v1h-2zM318 809h2v1h-2zM317 810h1v1h-1zM315 811h2v1h-2zM314 812h1v1h-1zM312 813h2v1h-2zM310 814h2v1h-2zM308 815h2v1h-2zM306 816h2v1h-2zM305 817h1v1h-1zM303 818h2v1h-2zM301 819h2v1h-2zM299 820h2v1h-2zM297 821h2v1h-2zM296 822h1v1h-1zM294 823h2v1h-2zM293 824h1v1h-1zM291 825h2v1h-2zM290 826h1v1h-1zM288 827h2v1h-2zM287 828h1v1h-1zM285 829h2v1h-2zM283 830h2v1h-2zM282 831h1v1h-1zM280 832h2v1h-2zM279 833h1v1h-1zM277 834h2v1h-2zM275 835h2v1h-2zM273 836h2v1h-2zM271 837h2v1h-2zM270 838h1v1h-1zM268 839h2v1h-2zM266 840h2v1h-2zM264 841h2v1h-2zM262 842h2v1h-2zM261 843h1v1h-1zM259 844h2v1h-2zM258 845h1v1h-1zM257 846h1v1h-1zM255 847h2v1h-2zM254 848h1v1h-1zM253 849h1v1h-1zM251 850h2v1h-2zM249 851h2v1h-2zM247 852h2v1h-2zM245 853h2v1h-2zM244 854h1v1h-1zM242 855h2v1h-2zM240 856h2v1h-2zM238 857h2v1h-2zM236 858h2v1h-2zM235 859h1v1h-1zM233 860h2v1h-2zM231 861h2v1h-2zM229 862h2v1h-2zM227 863h2v1h-2zM226 864h1v1h-1zM224 865h2v1h-2zM223 866h1v1h-1zM222 867h1v1h-1zM220 868h2v1h-2zM219 869h1v1h-1zM218 870h1v1h-1zM216 871h2v1h-2zM214 872h2v1h-2zM212 873h2v1h-2zM210 874h2v1h-2zM209 875h1v1h-1zM207 876h2v1h-2zM205 877h2v1h-2zM203 878h2v1h-2zM201 879h2v1h-2zM200 880h1v1h-1zM198 881h2v1h-2zM196 882h2v1h-2zM194 883h2v1h-2zM192 884h2v1h-2zM191 885h1v1h-1zM189 886h2v1h-2zM188 887h1v1h-1zM187 888h1v1h-1zM185 889h2v1h-2zM184 890h1v1h-1zM183 891h1v1h-1zM181 892h2v1h-2zM179 893h2v1h-2zM177 894h2v1h-2zM175 895h2v1h-2zM174 896h1v1h-1zM172 897h2v1h-2zM170 898h2v1h-2zM168 899h2v1h-2zM166 900h2v1h-2zM165 901h1v1h-1zM163 902h2v1h-2zM161 903h2v1h-2zM159 904h2v1h-2zM157 905h2v1h-2zM156 906h1v1h-1zM154 907h2v1h-2zM152 908h2v1h-2zM151 909h1v1h-1zM149 910h2v1h-2zM148 911h1v1h-1zM146 912h2v1h-2zM145 913h1v1h-1zM143 914h2v1h-2zM142 915h1v1h-1zM140 916h2v1h-2zM139 917h1v1h-1zM137 918h2v1h-2zM135 919h2v1h-2zM133 920h2v1h-2zM131 921h2v1h-2zM130 922h1v1h-1zM128 923h2v1h-2zM126 924h2v1h-2zM124 925h2v1h-2zM122 926h2v1h-2zM121 927h1v1h-1zM119 928h2v1h-2zM117 929h2v1h-2zM116 930h1v1h-1zM114 931h2v1h-2zM113 932h1v1h-1zM111 933h2v1h-2zM110 934h1v1h-1zM108 935h2v1h-2zM107 936h1v1h-1zM105 937h2v1h-2zM104 938h1v1h-1z"/>
<path fill="#000" d="M104 19h866v1h-866zM104 20h1v1h-1zM160 20h1v1h-1zM261 20h1v1h-1zM333 20h1v1h-1zM388 20h1v1h-1zM434 20h1v1h-1zM472 20h1v1h-1zM506 20h1v1h-1zM535 20h1v1h-1zM561 20h1v1h-1zM734 20h1v1h-1zM836 20h1v1h-1zM907 20h1v1h-1zM963 20h1v1h-1zM969 20h1v1h-1zM104 21h1v1h-1zM160 21h1v1h-1zM261 21h1v1h-1zM333 21h1v1h-1zM388 21h1v1h-1zM434 21h1v1h-1zM472 21h1v1h-1zM506 21h1v1h-1zM535 21h1v1h-1zM561 21h1v1h-1zM734 21h1v1h-1zM836 21h1v1h-1zM907 21h1v1h-1zM963 21h1v1h-1zM969 21h1v1h-1zM104 22h1v1h-1zM160 22h1v1h-1zM261 22h1v1h-1zM333 22h1v1h-1zM388 22h1v1h-1zM434 22h1v1h-1zM472 22h1v1h-1zM506 22h1v1h-1zM535 22h1v1h-1zM561 22h1v1h-1zM734 22h1v1h-1zM836 22h1v1h-1zM907 22h1v1h-1zM963 22h1v1h-1zM969 22h1v1h-1zM104 23h1v1h-1zM160 23h1v1h-1zM261 23h1v1h-1zM333 23h1v1h-1zM388 23h1v1h-1zM434 23h1v1h-1zM472 23h1v1h-1zM506 23h1v1h-1zM535 23h1v1h-1zM561 23h1v1h-1zM734 23h1v1h-1zM836 23h1v1h-1zM907 23h1v1h-1zM963 23h1v1h-1zM969 23h1v1h-1zM104 24h6v1h-6zM160 24h1v1h-1zM261 24h1v1h-1zM333 24h1v1h-1zM388 24h1v1h-1zM434 24h1v1h-1zM472 24h1v1h-1zM506 24h1v1h-1zM535 24h1v1h-1zM561 24h1v1h-1zM734 24h1v1h-1zM836 24h1v1h-1zM907 24h1v1h-1zM963 24h7v1h-7zM104 25h1v1h-1zM561 25h1v1h-1zM969 25h1v1h-1zM104 26h1v1h-1zM561 26h1v1h-1zM969 26h1v1h-1zM104 27h1v1h-1zM561 27h1v1h-1zM969 27h1v1h-1zM104 28h1v1h-1zM561 28h1v1h-1zM969 28h1v1h-1zM104 29h1v1h-1zM561 29h1v1h-1zM969 29h1v1h-1zM104 30h6v1h-6zM964 30h6v1h-6zM104 31h1v1h-1zM969 31h1v1h-1zM104 32h1v1h-1zM969 32h1v1h-1zM104 33h1v1h-1zM969 33h1v1h-1zM104 34h1v1h-1zM969 34h1v1h-1zM104 35h1v1h-1zM969 35h1v1h-1zM104 36h1v1h-1zM969 36h1v1h-1zM104 37h6v1h-6zM964 37h6v1h-6zM104 38h1v1h-1zM969 38h1v1h-1zM104 39h1v1h-1zM969 39h1v1h-1zM104 40h1v1h-1zM969 40h1v1h-1zM104 41h1v1h-1zM969 41h1v1h-1zM104 42h1v1h-1zM969 42h1v1h-1zM104 43h1v1h-1zM969 43h1v1h-1zM104 44h1v1h-1zM969 44h1v1h-1zM104 45h6v1h-6zM964 45h6v1h-6zM104 46h1v1h-1zM969 46h1v1h-1zM104 47h1v1h-1zM969 47h1v1h-1zM104 48h1v1h-1zM969 48h1v1h-1zM104 49h1v1h-1zM969 49h1v1h-1zM104 50h1v1h-1zM969 50h1v1h-1zM104 51h1v1h-1zM969 51h1v1h-1zM104 52h1v1h-1zM969 52h1v1h-1zM104 53h1v1h-1zM969 53h1v1h-1zM104 54h6v1h-6zM964 54h6v1h-6zM104 55h1v1h-1zM969 55h1v1h-1zM104 56h1v1h-1zM969 56h1v1h-1zM104 57h1v1h-1zM969 57h1v1h-1zM104 58h1v1h-1zM969 58h1v1h-1zM104 59h1v1h-1zM969 59h1v1h-1zM104 60h1v1h-1zM969 60h1v1h-1zM104 61h1v1h-1zM969 61h1v1h-1zM104 62h1v1h-1zM969 62h1v1h-1zM104 63h1v1h-1zM969 63h1v1h-1zM104 64h1v1h-1zM969 64h1v1h-1zM104 65h6v1h-6zM964 65h6v1h-6zM104 66h1v1h-1zM969 66h1v1h-1zM104 67h1v1h-1zM969 67h1v1h-1zM104 68h1v1h-1zM969 68h1v1h-1zM104 69h1v1h-1zM969 69h1v1h-1zM104 70h1v1h-1zM969 70h1v1h-1zM104 71h1v1h-1zM969 71h1v1h-1zM104 72h1v1h-1zM969 72h1v1h-1zM104 73h1v1h-1zM969 73h1v1h-1zM104 74h1v1h-1zM969 74h1v1h-1zM104 75h1v1h-1zM969 75h1v1h-1zM104 76h1v1h-1zM969 76h1v1h-1zM104 77h1v1h-1zM969 77h1v1h-1zM104 78h1v1h-1zM969 78h1v1h-1zM104 79h6v1h-6zM964 79h6v1h-6zM104 80h1v1h-1zM969 80h1v1h-1zM104 81h1v1h-1zM969 81h1v1h-1zM104 82h1v1h-1zM969 82h1v1h-1zM104 83h1v1h-1zM969 83h1v1h-1zM104 84h1v1h-1zM969 84h1v1h-1zM104 85h1v1h-1zM969 85h1v1h-1zM104 86h1v1h-1zM969 86h1v1h-1zM104 87h1v1h-1zM969 87h1v1h-1zM104 88h1v1h-1zM969 88h1v1h-1zM104 89h1v1h-1zM969 89h1v1h-1zM104 90h1v1h-1zM969 90h1v1h-1zM104 91h1v1h-1zM969 91h1v1h-1zM104 92h1v1h-1zM969 92h1v1h-1zM104 93h1v1h-1zM969 93h1v1h-1zM104 94h1v1h-1zM969 94h1v1h-1zM104 95h1v1h-1zM969 95h1v1h-1zM104 96h1v1h-1zM969 96h1v1h-1zM104 97h1v1h-1zM969 97h1v1h-1zM104 98h1v1h-1zM969 98h1v1h-1zM104 99h6v1h-6zM964 99h6v1h-6zM104 100h1v1h-1zM969 100h1v1h-1zM104 101h1v1h-1zM969 101h1v1h-1zM104 102h1v1h-1zM969 102h1v1h-1zM104 103h1v1h-1zM969 103h1v1h-1zM104 104h1v1h-1zM969 104h1v1h-1zM104 105h1v1h-1zM969 105h1v1h-1zM104 106h1v1h-1zM969 106h1v1h-1zM104 107h1v1h-1zM969 107h1v1h-1zM104 108h1v1h-1zM969 108h1v1h-1zM104 109h1v1h-1zM969 109h1v1h-1zM104 110h1v1h-1zM969 110h1v1h-1zM104 111h1v1h-1zM969 111h1v1h-1zM104 112h1v1h-1zM969 112h1v1h-1zM104 113h1v1h-1zM969 113h1v1h-1zM104 114h1v1h-1zM969 114h1v1h-1zM104 115h1v1h-1zM969 115h1v1h-1zM104 116h1v1h-1zM969 116h1v1h-1zM104 117h1v1h-1zM969 117h1v1h-1zM104 118h1v1h-1zM969 118h1v1h-1zM104 119h1v1h-1zM969 119h1v1h-1zM104 120h1v1h-1zM969 120h1v1h-1zM104 121h1v1h-1zM969 121h1v1h-1zM104 122h1v1h-1zM969 122h1v1h-1zM104 123h1v1h-1zM969 123h1v1h-1zM104 124h1v1h-1zM969 124h1v1h-1zM104 125h1v1h-1zM969 125h1v1h-1zM104 126h1v1h-1zM969 126h1v1h-1zM104 127h1v1h-1zM969 127h1v1h-1zM104 128h1v1h-1zM969 128h1v1h-1zM104 129h1v1h-1zM969 129h1v1h-1zM104 130h1v1h-1zM969 130h1v1h-1zM104 131h1v1h-1zM969 131h1v1h-1zM104 132h1v1h-1zM969 132h1v1h-1zM104 133h1v1h-1zM969 133h1v1h-1zM104 134h11v1h-11zM959 134h11v1h-11zM104 135h1v1h-1zM969 135h1v1h-1zM104 136h1v1h-1zM969 136h1v1h-1zM104 137h1v1h-1zM969 137h1v1h-1zM104 138h1v1h-1zM969 138h1v1h-1zM104 139h6v1h-6zM964 139h6v1h-6zM104 140h1v1h-1zM969 140h1v1h-1zM104 141h1v1h-1zM969 141h1v1h-1zM104 142h1v1h-1zM969 142h1v1h-1zM104 143h1v1h-1zM969 143h1v1h-1zM104 144h1v1h-1zM969 144h1v1h-1zM104 145h6v1h-6zM964 145h6v1h-6zM104 146h1v1h-1zM969 146h1v1h-1zM104 147h1v1h-1zM969 147h1v1h-1zM104 148h1v1h-1zM969 148h1v1h-1zM104 149h1v1h-1zM969 149h1v1h-1zM104 150h1v1h-1zM969 150h1v1h-1zM104 151h1v1h-1zM969 151h1v1h-1zM104 152h6v1h-6zM964 152h6v1h-6zM104 153h1v1h-1zM969 153h1v1h-1zM104 154h1v1h-1zM969 154h1v1h-1zM104 155h1v1h-1zM969 155h1v1h-1zM104 156h1v1h-1zM969 156h1v1h-1zM104 157h1v1h-1zM969 157h1v1h-1zM104 158h1v1h-1zM969 158h1v1h-1zM104 159h1v1h-1zM969 159h1v1h-1zM104 160h6v1h-6zM964 160h6v1h-6zM104 161h1v1h-1zM969 161h1v1h-1zM104 162h1v1h-1zM969 162h1v1h-1zM104 163h1v1h-1zM969 163h1v1h-1zM104 164h1v1h-1zM969 164h1v1h-1zM104 165h1v1h-1zM969 165h1v1h-1zM104 166h1v1h-1zM969 166h1v1h-1zM104 167h1v1h-1zM969 167h1v1h-1zM104 168h1v1h-1zM969 168h1v1h-1zM104 169h6v1h-6zM964 169h6v1h-6zM104 170h1v1h-1zM969 170h1v1h-1zM104 171h1v1h-1zM969 171h1v1h-1zM104 172h1v1h-1zM969 172h1v1h-1zM104 173h1v1h-1zM969 173h1v1h-1zM104 174h1v1h-1zM969 174h1v1h-1zM104 175h1v1h-1zM969 175h1v1h-1zM104 176h1v1h-1zM969 176h1v1h-1zM104 177h1v1h-1zM969 177h1v1h-1zM104 178h1v1h-1zM969 178h1v1h-1zM104 179h1v1h-1zM969 179h1v1h-1zM104 180h6v1h-6zM964 180h6v1h-6zM104 181h1v1h-1zM969 181h1v1h-1zM104 182h1v1h-1zM969 182h1v1h-1zM104 183h1v1h-1zM969 183h1v1h-1zM104 184h1v1h-1zM969 184h1v1h-1zM104 185h1v1h-1zM969 185h1v1h-1zM104 186h1v1h-1zM969 186h1v1h-1zM104 187h1v1h-1zM969 187h1v1h-1zM104 188h1v1h-1zM969 188h1v1h-1zM104 189h1v1h-1zM969 189h1v1h-1zM104 190h1v1h-1zM969 190h1v1h-1zM104 191h1v1h-1zM969 191h1v1h-1zM104 192h1v1h-1zM969 192h1v1h-1zM104 193h1v1h-1zM969 193h1v1h-1zM104 194h6v1h-6zM964 194h6v1h-6zM104 195h1v1h-1zM969 195h1v1h-1zM104 196h1v1h-1zM969 196h1v1h-1zM104 197h1v1h-1zM969 197h1v1h-1zM104 198h1v1h-1zM969 198h1v1h-1zM104 199h1v1h-1zM969 199h1v1h-1zM104 200h1v1h-1zM969 200h1v1h-1zM104 201h1v1h-1zM969 201h1v1h-1zM104 202h1v1h-1zM969 202h1v1h-1zM104 203h1v1h-1zM969 203h1v1h-1zM104 204h1v1h-1zM969 204h1v1h-1zM104 205h1v1h-1zM969 205h1v1h-1zM104 206h1v1h-1zM969 206h1v1h-1zM104 207h1v1h-1zM969 207h1v1h-1zM104 208h1v1h-1zM969 208h1v1h-1zM104 209h1v1h-1zM969 209h1v1h-1zM104 210h1v1h-1zM969 210h1v1h-1zM104 211h1v1h-1zM969 211h1v1h-1zM104 212h1v1h-1zM969 212h1v1h-1zM104 213h1v1h-1zM969 213h1v1h-1zM104 214h6v1h-6zM964 214h6v1h-6zM104 215h1v1h-1zM969 215h1v1h-1zM104 216h1v1h-1zM969 216h1v1h-1zM104 217h1v1h-1zM969 217h1v1h-1zM104 218h1v1h-1zM969 218h1v1h-1zM104 219h1v1h-1zM969 219h1v1h-1zM104 220h1v1h-1zM969 220h1v1h-1zM104 221h1v1h-1zM969 221h1v1h-1zM104 222h1v1h-1zM969 222h1v1h-1zM104 223h1v1h-1zM969 223h1v1h-1zM104 224h1v1h-1zM969 224h1v1h-1zM104 225h1v1h-1zM969 225h1v1h-1zM104 226h1v1h-1zM969 226h1v1h-1zM104 227h1v1h-1zM969 227h1v1h-1zM104 228h1v1h-1zM969 228h1v1h-1zM104 229h1v1h-1zM969 229h1v1h-1zM104 230h1v1h-1zM969 230h1v1h-1zM104 231h1v1h-1zM969 231h1v1h-1zM104 232h1v1h-1zM969 232h1v1h-1zM104 233h1v1h-1zM969 233h1v1h-1zM104 234h1v1h-1zM969 234h1v1h-1zM104 235h1v1h-1zM969 235h1v1h-1zM104 236h1v1h-1zM969 236h1v1h-1zM104 237h1v1h-1zM969 237h1v1h-1zM104 238h1v1h-1zM969 238h1v1h-1zM104 239h1v1h-1zM969 239h1v1h-1zM104 240h1v1h-1zM969 240h1v1h-1zM104 241h1v1h-1zM969 241h1v1h-1zM104 242h1v1h-1zM969 242h1v1h-1zM104 243h1v1h-1zM969 243h1v1h-1zM104 244h1v1h-1zM969 244h1v1h-1zM104 245h1v1h-1zM969 245h1v1h-1zM104 246h1v1h-1zM969 246h1v1h-1zM104 247h1v1h-1zM969 247h1v1h-1zM104 248h1v1h-1zM969 248h1v1h-1zM104 249h11v1h-11zM959 249h11v1h-11zM104 250h1v1h-1zM969 250h1v1h-1zM104 251h1v1h-1zM969 251h1v1h-1zM104 252h1v1h-1zM969 252h1v1h-1zM104 253h1v1h-1zM969 253h1v1h-1zM104 254h6v1h-6zM964 254h6v1h-6zM104 255h1v1h-1zM969 255h1v1h-1zM104 256h1v1h-1zM969 256h1v1h-1zM104 257h1v1h-1zM969 257h1v1h-1zM104 258h1v1h-1zM969 258h1v1h-1zM104 259h1v1h-1zM969 259h1v1h-1zM104 260h6v1h-6zM964 260h6v1h-6zM104 261h1v1h-1zM969 261h1v1h-1zM104 262h1v1h-1zM969 262h1v1h-1zM104 263h1v1h-1zM969 263h1v1h-1zM104 264h1v1h-1zM969 264h1v1h-1zM104 265h1v1h-1zM969 265h1v1h-1zM104 266h1v1h-1zM969 266h1v1h-1zM104 267h6v1h-6zM964 267h6v1h-6zM104 268h1v1h-1zM969 268h1v1h-1zM104 269h1v1h-1zM969 269h1v1h-1zM104 270h1v1h-1zM969 270h1v1h-1zM104 271h1v1h-1zM969 271h1v1h-1zM104 272h1v1h-1zM969 272h1v1h-1zM104 273h1v1h-1zM969 273h1v1h-1zM104 274h1v1h-1zM969 274h1v1h-1zM104 275h6v1h-6zM964 275h6v1h-6zM104 276h1v1h-1zM969 276h1v1h-1zM104 277h1v1h-1zM969 277h1v1h-1zM104 278h1v1h-1zM969 278h1v1h-1zM104 279h1v1h-1zM969 279h1v1h-1zM104 280h1v1h-1zM969 280h1v1h-1zM104 281h1v1h-1zM969 281h1v1h-1zM104 282h1v1h-1zM969 282h1v1h-1zM104 283h1v1h-1zM969 283h1v1h-1zM104 284h6v1h-6zM964 284h6v1h-6zM104 285h1v1h-1zM969 285h1v1h-1zM104 286h1v1h-1zM969 286h1v1h-1zM104 287h1v1h-1zM969 287h1v1h-1zM104 288h1v1h-1zM969 288h1v1h-1zM104 289h1v1h-1zM969 289h1v1h-1zM104 290h1v1h-1zM969 290h1v1h-1zM104 291h1v1h-1zM969 291h1v1h-1zM104 292h1v1h-1zM969 292h1v1h-1zM104 293h1v1h-1zM969 293h1v1h-1zM104 294h1v1h-1zM969 294h1v1h-1zM104 295h6v1h-6zM964 295h6v1h-6zM104 296h1v1h-1zM969 296h1v1h-1zM104 297h1v1h-1zM969 297h1v1h-1zM104 298h1v1h-1zM969 298h1v1h-1zM104 299h1v1h-1zM969 299h1v1h-1zM104 300h1v1h-1zM969 300h1v1h-1zM104 301h1v1h-1zM969 301h1v1h-1zM104 302h1v1h-1zM969 302h1v1h-1zM104 303h1v1h-1zM969 303h1v1h-1zM104 304h1v1h-1zM969 304h1v1h-1zM104 305h1v1h-1zM969 305h1v1h-1zM104 306h1v1h-1zM969 306h1v1h-1zM104 307h1v1h-1zM969 307h1v1h-1zM104 308h1v1h-1zM969 308h1v1h-1zM104 309h6v1h-6zM964 309h6v1h-6zM104 310h1v1h-1zM969 310h1v1h-1zM104 311h1v1h-1zM969 311h1v1h-1zM104 312h1v1h-1zM969 312h1v1h-1zM104 313h1v1h-1zM969 313h1v1h-1zM104 314h1v1h-1zM969 314h1v1h-1zM104 315h1v1h-1zM969 315h1v1h-1zM104 316h1v1h-1zM969 316h1v1h-1zM104 317h1v1h-1zM969 317h1v1h-1zM104 318h1v1h-1zM969 318h1v1h-1zM104 319h1v1h-1zM969 319h1v1h-1zM104 320h1v1h-1zM969 320h1v1h-1zM104 321h1v1h-1zM969 321h1v1h-1zM104 322h1v1h-1zM969 322h1v1h-1zM104 323h1v1h-1zM969 323h1v1h-1zM104 324h1v1h-1zM969 324h1v1h-1zM104 325h1v1h-1zM969 325h1v1h-1zM104 326h1v1h-1zM969 326h1v1h-1zM104 327h1v1h-1zM969 327h1v1h-1zM104 328h1v1h-1zM969 328h1v1h-1zM104 329h6v1h-6zM964 329h6v1h-6zM104 330h1v1h-1zM969 330h1v1h-1zM104 331h1v1h-1zM969 331h1v1h-1zM104 332h1v1h-1zM969 332h1v1h-1zM104 333h1v1h-1zM969 333h1v1h-1zM104 334h1v1h-1zM969 334h1v1h-1zM104 335h1v1h-1zM969 335h1v1h-1zM104 336h1v1h-1zM969 336h1v1h-1zM104 337h1v1h-1zM969 337h1v1h-1zM104 338h1v1h-1zM969 338h1v1h-1zM104 339h1v1h-1zM969 339h1v1h-1zM104 340h1v1h-1zM969 340h1v1h-1zM104 341h1v1h-1zM969 341h1v1h-1zM104 342h1v1h-1zM969 342h1v1h-1zM104 343h1v1h-1zM969 343h1v1h-1zM104 344h1v1h-1zM969 344h1v1h-1zM104 345h1v1h-1zM969 345h1v1h-1zM104 346h1v1h-1zM969 346h1v1h-1zM104 347h1v1h-1zM969 347h1v1h-1zM104 348h1v1h-1zM969 348h1v1h-1zM104 349h1v1h-1zM969 349h1v1h-1zM104 350h1v1h-1zM969 350h1v1h-1zM104 351h1v1h-1zM969 351h1v1h-1zM104 352h1v1h-1zM969 352h1v1h-1zM104 353h1v1h-1zM969 353h1v1h-1zM104 354h1v1h-1zM969 354h1v1h-1zM104 355h1v1h-1zM969 355h1v1h-1zM104 356h1v1h-1zM969 356h1v1h-1zM104 357h1v1h-1zM969 357h1v1h-1zM104 358h1v1h-1zM969 358h1v1h-1zM104 359h1v1h-1zM969 359h1v1h-1zM104 360h1v1h-1zM969 360h1v1h-1zM104 361h1v1h-1zM969 361h1v1h-1zM104 362h1v1h-1zM969 362h1v1h-1zM104 363h1v1h-1zM969 363h1v1h-1zM104 364h11v1h-11zM959 364h11v1h-11zM104 365h1v1h-1zM969 365h1v1h-1zM104 366h1v1h-1zM969 366h1v1h-1zM104 367h1v1h-1zM969 367h1v1h-1zM104 368h1v1h-1zM969 368h1v1h-1zM104 369h6v1h-6zM964 369h6v1h-6zM104 370h1v1h-1zM969 370h1v1h-1zM104 371h1v1h-1zM969 371h1v1h-1zM104 372h1v1h-1zM969 372h1v1h-1zM104 373h1v1h-1zM969 373h1v1h-1zM104 374h1v1h-1zM969 374h1v1h-1zM104 375h6v1h-6zM964 375h6v1h-6zM104 376h1v1h-1zM969 376h1v1h-1zM104 377h1v1h-1zM969 377h1v1h-1zM104 378h1v1h-1zM969 378h1v1h-1zM104 379h1v1h-1zM969 379h1v1h-1zM104 380h1v1h-1zM969 380h1v1h-1zM104 381h1v1h-1zM969 381h1v1h-1zM104 382h6v1h-6zM964 382h6v1h-6zM104 383h1v1h-1zM969 383h1v1h-1zM104 384h1v1h-1zM969 384h1v1h-1zM104 385h1v1h-1zM969 385h1v1h-1zM104 386h1v1h-1zM969 386h1v1h-1zM104 387h1v1h-1zM969 387h1v1h-1zM104 388h1v1h-1zM969 388h1v1h-1zM104 389h1v1h-1zM969 389h1v1h-1zM104 390h6v1h-6zM964 390h6v1h-6zM104 391h1v1h-1zM969 391h1v1h-1zM104 392h1v1h-1zM969 392h1v1h-1zM104 393h1v1h-1zM969 393h1v1h-1zM104 394h1v1h-1zM969 394h1v1h-1zM104 395h1v1h-1zM969 395h1v1h-1zM104 396h1v1h-1zM969 396h1v1h-1zM104 397h1v1h-1zM969 397h1v1h-1zM104 398h1v1h-1zM969 398h1v1h-1zM104 399h6v1h-6zM964 399h6v1h-6zM104 400h1v1h-1zM969 400h1v1h-1zM104 401h1v1h-1zM969 401h1v1h-1zM104 402h1v1h-1zM969 402h1v1h-1zM104 403h1v1h-1zM969 403h1v1h-1zM104 404h1v1h-1zM969 404h1v1h-1zM104 405h1v1h-1zM969 405h1v1h-1zM104 406h1v1h-1zM969 406h1v1h-1zM104 407h1v1h-1zM969 407h1v1h-1zM104 408h1v1h-1zM969 408h1v1h-1zM104 409h1v1h-1zM969 409h1v1h-1zM104 410h6v1h-6zM964 410h6v1h-6zM104 411h1v1h-1zM969 411h1v1h-1zM104 412h1v1h-1zM969 412h1v1h-1zM104 413h1v1h-1zM969 413h1v1h-1zM104 414h1v1h-1zM969 414h1v1h-1zM104 415h1v1h-1zM969 415h1v1h-1zM104 416h1v1h-1zM969 416h1v1h-1zM104 417h1v1h-1zM969 417h1v1h-1zM104 418h1v1h-1zM969 418h1v1h-1zM104 419h1v1h-1zM969 419h1v1h-1zM104 420h1v1h-1zM969 420h1v1h-1zM104 421h1v1h-1zM969 421h1v1h-1zM104 422h1v1h-1zM969 422h1v1h-1zM104 423h1v1h-1zM969 423h1v1h-1zM104 424h6v1h-6zM964 424h6v1h-6zM104 425h1v1h-1zM969 425h1v1h-1zM104 426h1v1h-1zM969 426h1v1h-1zM104 427h1v1h-1zM969 427h1v1h-1zM104 428h1v1h-1zM969 428h1v1h-1zM104 429h1v1h-1zM969 429h1v1h-1zM104 430h1v1h-1zM969 430h1v1h-1zM104 431h1v1h-1zM969 431h1v1h-1zM104 432h1v1h-1zM969 432h1v1h-1zM104 433h1v1h-1zM969 433h1v1h-1zM104 434h1v1h-1zM969 434h1v1h-1zM104 435h1v1h-1zM969 435h1v1h-1zM104 436h1v1h-1zM969 436h1v1h-1zM104 437h1v1h-1zM969 437h1v1h-1zM104 438h1v1h-1zM969 438h1v1h-1zM104 439h1v1h-1zM969 439h1v1h-1zM104 440h1v1h-1zM969 440h1v1h-1zM104 441h1v1h-1zM969 441h1v1h-1zM104 442h1v1h-1zM969 442h1v1h-1zM104 443h1v1h-1zM969 443h1v1h-1zM104 444h6v1h-6zM964 444h6v1h-6zM104 445h1v1h-1zM969 445h1v1h-1zM104 446h1v1h-1zM969 446h1v1h-1zM104 447h1v1h-1zM969 447h1v1h-1zM104 448h1v1h-1zM969 448h1v1h-1zM104 449h1v1h-1zM969 449h1v1h-1zM104 450h1v1h-1zM969 450h1v1h-1zM104 451h1v1h-1zM969 451h1v1h-1zM104 452h1v1h-1zM969 452h1v1h-1zM104 453h1v1h-1zM969 453h1v1h-1zM104 454h1v1h-1zM969 454h1v1h-1zM104 455h1v1h-1zM969 455h1v1h-1zM104 456h1v1h-1zM969 456h1v1h-1zM104 457h1v1h-1zM969 457h1v1h-1zM104 458h1v1h-1zM969 458h1v1h-1zM104 459h1v1h-1zM969 459h1v1h-1zM104 460h1v1h-1zM969 460h1v1h-1zM104 461h1v1h-1zM969 461h1v1h-1zM104 462h1v1h-1zM969 462h1v1h-1zM104 463h1v1h-1zM969 463h1v1h-1zM104 464h1v1h-1zM969 464h1v1h-1zM104 465h1v1h-1zM969 465h1v1h-1zM104 466h1v1h-1zM969 466h1v1h-1zM104 467h1v1h-1zM969 467h1v1h-1zM104 468h1v1h-1zM969 468h1v1h-1zM104 469h1v1h-1zM969 469h1v1h-1zM104 470h1v1h-1zM969 470h1v1h-1zM104 471h1v1h-1zM969 471h1v1h-1zM104 472h1v1h-1zM969 472h1v1h-1zM104 473h1v1h-1zM969 473h1v1h-1zM104 474h1v1h-1zM969 474h1v1h-1zM104 475h1v1h-1zM969 475h1v1h-1zM104 476h1v1h-1zM969 476h1v1h-1zM104 477h1v1h-1zM969 477h1v1h-1zM104 478h1v1h-1zM969 478h1v1h-1zM104 479h11v1h-11zM959 479h11v1h-11zM104 480h1v1h-1zM969 480h1v1h-1zM104 481h1v1h-1zM969 481h1v1h-1zM104 482h1v1h-1zM969 482h1v1h-1zM104 483h1v1h-1zM969 483h1v1h-1zM104 484h6v1h-6zM964 484h6v1h-6zM104 485h1v1h-1zM969 485h1v1h-1zM104 486h1v1h-1zM969 486h1v1h-1zM104 487h1v1h-1zM969 487h1v1h-1zM104 488h1v1h-1zM969 488h1v1h-1zM104 489h1v1h-1zM969 489h1v1h-1zM104 490h6v1h-6zM964 490h6v1h-6zM104 491h1v1h-1zM969 491h1v1h-1zM104 492h1v1h-1zM969 492h1v1h-1zM104 493h1v1h-1zM969 493h1v1h-1zM104 494h1v1h-1zM969 494h1v1h-1zM104 495h1v1h-1zM969 495h1v1h-1zM104 496h1v1h-1zM969 496h1v1h-1zM104 497h6v1h-6zM964 497h6v1h-6zM104 498h1v1h-1zM969 498h1v1h-1zM104 499h1v1h-1zM969 499h1v1h-1zM104 500h1v1h-1zM969 500h1v1h-1zM104 501h1v1h-1zM969 501h1v1h-1zM104 502h1v1h-1zM969 502h1v1h-1zM104 503h1v1h-1zM969 503h1v1h-1zM104 504h1v1h-1zM969 504h1v1h-1zM104 505h6v1h-6zM964 505h6v1h-6zM104 506h1v1h-1zM969 506h1v1h-1zM104 507h1v1h-1zM969 507h1v1h-1zM104 508h1v1h-1zM969 508h1v1h-1zM104 509h1v1h-1zM969 509h1v1h-1zM104 510h1v1h-1zM969 510h1v1h-1zM104 511h1v1h-1zM969 511h1v1h-1zM104 512h1v1h-1zM969 512h1v1h-1zM104 513h1v1h-1zM969 513h1v1h-1zM104 514h6v1h-6zM964 514h6v1h-6zM104 515h1v1h-1zM969 515h1v1h-1zM104 516h1v1h-1zM969 516h1v1h-1zM104 517h1v1h-1zM969 517h1v1h-1zM104 518h1v1h-1zM969 518h1v1h-1zM104 519h1v1h-1zM969 519h1v1h-1zM104 520h1v1h-1zM969 520h1v1h-1zM104 521h1v1h-1zM969 521h1v1h-1zM104 522h1v1h-1zM969 522h1v1h-1zM104 523h1v1h-1zM969 523h1v1h-1zM104 524h1v1h-1zM969 524h1v1h-1zM104 525h6v1h-6zM964 525h6v1h-6zM104 526h1v1h-1zM969 526h1v1h-1zM104 527h1v1h-1zM969 527h1v1h-1zM104 528h1v1h-1zM969 528h1v1h-1zM104 529h1v1h-1zM969 529h1v1h-1zM104 530h1v1h-1zM969 530h1v1h-1zM104 531h1v1h-1zM969 531h1v1h-1zM104 532h1v1h-1zM969 532h1v1h-1zM104 533h1v1h-1zM969 533h1v1h-1zM104 534h1v1h-1zM969 534h1v1h-1zM104 535h1v1h-1zM969 535h1v1h-1zM104 536h1v1h-1zM969 536h1v1h-1zM104 537h1v1h-1zM969 537h1v1h-1zM104 538h1v1h-1zM969 538h1v1h-1zM104 539h6v1h-6zM964 539h6v1h-6zM104 540h1v1h-1zM969 540h1v1h-1zM104 541h1v1h-1zM969 541h1v1h-1zM104 542h1v1h-1zM969 542h1v1h-1zM104 543h1v1h-1zM969 543h1v1h-1zM104 544h1v1h-1zM969 544h1v1h-1zM104 545h1v1h-1zM969 545h1v1h-1zM104 546h1v1h-1zM969 546h1v1h-1zM104 547h1v1h-1zM969 547h1v1h-1zM104 548h1v1h-1zM969 548h1v1h-1zM104 549h1v1h-1zM969 549h1v1h-1zM104 550h1v1h-1zM969 550h1v1h-1zM104 551h1v1h-1zM969 551h1v1h-1zM104 552h1v1h-1zM969 552h1v1h-1zM104 553h1v1h-1zM969 553h1v1h-1zM104 554h1v1h-1zM969 554h1v1h-1zM104 555h1v1h-1zM969 555h1v1h-1zM104 556h1v1h-1zM969 556h1v1h-1zM104 557h1v1h-1zM969 557h1v1h-1zM104 558h1v1h-1zM969 558h1v1h-1zM104 559h6v1h-6zM964 559h6v1h-6zM104 560h1v1h-1zM969 560h1v1h-1zM104 561h1v1h-1zM969 561h1v1h-1zM104 562h1v1h-1zM969 562h1v1h-1zM104 563h1v1h-1zM969 563h1v1h-1zM104 564h1v1h-1zM969 564h1v1h-1zM104 565h1v1h-1zM969 565h1v1h-1zM104 566h1v1h-1zM969 566h1v1h-1zM104 567h1v1h-1zM969 567h1v1h-1zM104 568h1v1h-1zM969 568h1v1h-1zM104 569h1v1h-1zM969 569h1v1h-1zM104 570h1v1h-1zM969 570h1v1h-1zM104 571h1v1h-1zM969 571h1v1h-1zM104 572h1v1h-1zM969 572h1v1h-1zM104 573h1v1h-1zM969 573h1v1h-1zM104 574h1v1h-1zM969 574h1v1h-1zM104 575h1v1h-1zM969 575h1v1h-1zM104 576h1v1h-1zM969 576h1v1h-1zM104 577h1v1h-1zM969 577h1v1h-1zM104 578h1v1h-1zM969 578h1v1h-1zM104 579h1v1h-1zM969 579h1v1h-1zM104 580h1v1h-1zM969 580h1v1h-1zM104 581h1v1h-1zM969 581h1v1h-1zM104 582h1v1h-1zM969 582h1v1h-1zM104 583h1v1h-1zM969 583h1v1h-1zM104 584h1v1h-1zM969 584h1v1h-1zM104 585h1v1h-1zM969 585h1v1h-1zM104 586h1v1h-1zM969 586h1v1h-1zM104 587h1v1h-1zM969 587h1v1h-1zM104 588h1v1h-1zM969 588h1v1h-1zM104 589h1v1h-1zM969 589h1v1h-1zM104 590h1v1h-1zM969 590h1v1h-1zM104 591h1v1h-1zM969 591h1v1h-1zM104 592h1v1h-1zM969 592h1v1h-1zM104 593h1v1h-1zM969 593h1v1h-1zM104 594h11v1h-11zM959 594h11v1h-11zM104 595h1v1h-1zM969 595h1v1h-1zM104 596h1v1h-1zM969 596h1v1h-1zM104 597h1v1h-1zM969 597h1v1h-1zM104 598h1v1h-1zM969 598h1v1h-1zM104 599h6v1h-6zM964 599h6v1h-6zM104 600h1v1h-1zM969 600h1v1h-1zM104 601h1v1h-1zM969 601h1v1h-1zM104 602h1v1h-1zM969 602h1v1h-1zM104 603h1v1h-1zM969 603h1v1h-1zM104 604h1v1h-1zM969 604h1v1h-1zM104 605h6v1h-6zM964 605h6v1h-6zM104 606h1v1h-1zM969 606h1v1h-1zM104 607h1v1h-1zM969 607h1v1h-1zM104 608h1v1h-1zM969 608h1v1h-1zM104 609h1v1h-1zM969 609h1v1h-1zM104 610h1v1h-1zM969 610h1v1h-1zM104 611h1v1h-1zM969 611h1v1h-1zM104 612h6v1h-6zM964 612h6v1h-6zM104 613h1v1h-1zM969 613h1v1h-1zM104 614h1v1h-1zM969 614h1v1h-1zM104 615h1v1h-1zM969 615h1v1h-1zM104 616h1v1h-1zM969 616h1v1h-1zM104 617h1v1h-1zM969 617h1v1h-1zM104 618h1v1h-1zM969 618h1v1h-1zM104 619h1v1h-1zM969 619h1v1h-1zM104 620h6v1h-6zM964 620h6v1h-6zM104 621h1v1h-1zM969 621h1v1h-1zM104 622h1v1h-1zM969 622h1v1h-1zM104 623h1v1h-1zM969 623h1v1h-1zM104 624h1v1h-1zM969 624h1v1h-1zM104 625h1v1h-1zM969 625h1v1h-1zM104 626h1v1h-1zM969 626h1v1h-1zM104 627h1v1h-1zM969 627h1v1h-1zM104 628h1v1h-1zM969 628h1v1h-1zM104 629h6v1h-6zM964 629h6v1h-6zM104 630h1v1h-1zM969 630h1v1h-1zM104 631h1v1h-1zM969 631h1v1h-1zM104 632h1v1h-1zM969 632h1v1h-1zM104 633h1v1h-1zM969 633h1v1h-1zM104 634h1v1h-1zM969 634h1v1h-1zM104 635h1v1h-1zM969 635h1v1h-1zM104 636h1v1h-1zM969 636h1v1h-1zM104 637h1v1h-1zM969 637h1v1h-1zM104 638h1v1h-1zM969 638h1v1h-1zM104 639h1v1h-1zM969 639h1v1h-1zM104 640h6v1h-6zM964 640h6v1h-6zM104 641h1v1h-1zM969 641h1v1h-1zM104 642h1v1h-1zM969 642h1v1h-1zM104 643h1v1h-1zM969 643h1v1h-1zM104 644h1v1h-1zM969 644h1v1h-1zM104 645h1v1h-1zM969 645h1v1h-1zM104 646h1v1h-1zM969 646h1v1h-1zM104 647h1v1h-1zM969 647h1v1h-1zM104 648h1v1h-1zM969 648h1v1h-1zM104 649h1v1h-1zM969 649h1v1h-1zM104 650h1v1h-1zM969 650h1v1h-1zM104 651h1v1h-1zM969 651h1v1h-1zM104 652h1v1h-1zM969 652h1v1h-1zM104 653h1v1h-1zM969 653h1v1h-1zM104 654h6v1h-6zM964 654h6v1h-6zM104 655h1v1h-1zM969 655h1v1h-1zM104 656h1v1h-1zM969 656h1v1h-1zM104 657h1v1h-1zM969 657h1v1h-1zM104 658h1v1h-1zM969 658h1v1h-1zM104 659h1v1h-1zM969 659h1v1h-1zM104 660h1v1h-1zM969 660h1v1h-1zM104 661h1v1h-1zM969 661h1v1h-1zM104 662h1v1h-1zM969 662h1v1h-1zM104 663h1v1h-1zM969 663h1v1h-1zM104 664h1v1h-1zM969 664h1v1h-1zM104 665h1v1h-1zM969 665h1v1h-1zM104 666h1v1h-1zM969 666h1v1h-1zM104 667h1v1h-1zM969 667h1v1h-1zM104 668h1v1h-1zM969 668h1v1h-1zM104 669h1v1h-1zM969 669h1v1h-1zM104 670h1v1h-1zM969 670h1v1h-1zM104 671h1v1h-1zM969 671h1v1h-1zM104 672h1v1h-1zM969 672h1v1h-1zM104 673h1v1h-1zM969 673h1v1h-1zM104 674h6v1h-6zM964 674h6v1h-6zM104 675h1v1h-1zM969 675h1v1h-1zM104 676h1v1h-1zM969 676h1v1h-1zM104 677h1v1h-1zM969 677h1v1h-1zM104 678h1v1h-1zM969 678h1v1h-1zM104 679h1v1h-1zM969 679h1v1h-1zM104 680h1v1h-1zM969 680h1v1h-1zM104 681h1v1h-1zM969 681h1v1h-1zM104 682h1v1h-1zM969 682h1v1h-1zM104 683h1v1h-1zM969 683h1v1h-1zM104 684h1v1h-1zM969 684h1v1h-1zM104 685h1v1h-1zM969 685h1v1h-1zM104 686h1v1h-1zM969 686h1v1h-1zM104 687h1v1h-1zM969 687h1v1h-1zM104 688h1v1h-1zM969 688h1v1h-1zM104 689h1v1h-1zM969 689h1v1h-1zM104 690h1v1h-1zM969 690h1v1h-1zM104 691h1v1h-1zM969 691h1v1h-1zM104 692h1v1h-1zM969 692h1v1h-1zM104 693h1v1h-1zM969 693h1v1h-1zM104 694h1v1h-1zM969 694h1v1h-1zM104 695h1v1h-1zM969 695h1v1h-1zM104 696h1v1h-1zM969 696h1v1h-1zM104 697h1v1h-1zM969 697h1v1h-1zM104 698h1v1h-1zM969 698h1v1h-1zM104 699h1v1h-1zM969 699h1v1h-1zM104 700h1v1h-1zM969 700h1v1h-1zM104 701h1v1h-1zM969 701h1v1h-1zM104 702h1v1h-1zM969 702h1v1h-1zM104 703h1v1h-1zM969 703h1v1h-1zM104 704h1v1h-1zM969 704h1v1h-1zM104 705h1v1h-1zM969 705h1v1h-1zM104 706h1v1h-1zM969 706h1v1h-1zM104 707h1v1h-1zM969 707h1v1h-1zM104 708h1v1h-1zM969 708h1v1h-1zM104 709h11v1h-11zM959 709h11v1h-11zM104 710h1v1h-1zM969 710h1v1h-1zM104 711h1v1h-1zM969 711h1v1h-1zM104 712h1v1h-1zM969 712h1v1h-1zM104 713h1v1h-1zM969 713h1v1h-1zM104 714h6v1h-6zM964 714h6v1h-6zM104 715h1v1h-1zM969 715h1v1h-1zM104 716h1v1h-1zM969 716h1v1h-1zM104 717h1v1h-1zM969 717h1v1h-1zM104 718h1v1h-1zM969 718h1v1h-1zM104 719h1v1h-1zM969 719h1v1h-1zM104 720h6v1h-6zM964 720h6v1h-6zM104 721h1v1h-1zM969 721h1v1h-1zM104 722h1v1h-1zM969 722h1v1h-1zM104 723h1v1h-1zM969 723h1v1h-1zM104 724h1v1h-1zM969 724h1v1h-1zM104 725h1v1h-1zM969 725h1v1h-1zM104 726h1v1h-1zM969 726h1v1h-1zM104 727h6v1h-6zM964 727h6v1h-6zM104 728h1v1h-1zM969 728h1v1h-1zM104 729h1v1h-1zM969 729h1v1h-1zM104 730h1v1h-1zM969 730h1v1h-1zM104 731h1v1h-1zM969 731h1v1h-1zM104 732h1v1h-1zM969 732h1v1h-1zM104 733h1v1h-1zM969 733h1v1h-1zM104 734h1v1h-1zM969 734h1v1h-1zM104 735h6v1h-6zM964 735h6v1h-6zM104 736h1v1h-1zM969 736h1v1h-1zM104 737h1v1h-1zM969 737h1v1h-1zM104 738h1v1h-1zM969 738h1v1h-1zM104 739h1v1h-1zM969 739h1v1h-1zM104 740h1v1h-1zM969 740h1v1h-1zM104 741h1v1h-1zM969 741h1v1h-1zM104 742h1v1h-1zM969 742h1v1h-1zM104 743h1v1h-1zM969 743h1v1h-1zM104 744h6v1h-6zM964 744h6v1h-6zM104 745h1v1h-1zM969 745h1v1h-1zM104 746h1v1h-1zM969 746h1v1h-1zM104 747h1v1h-1zM969 747h1v1h-1zM104 748h1v1h-1zM969 748h1v1h-1zM104 749h1v1h-1zM969 749h1v1h-1zM104 750h1v1h-1zM969 750h1v1h-1zM104 751h1v1h-1zM969 751h1v1h-1zM104 752h1v1h-1zM969 752h1v1h-1zM104 753h1v1h-1zM969 753h1v1h-1zM104 754h1v1h-1zM969 754h1v1h-1zM104 755h6v1h-6zM964 755h6v1h-6zM104 756h1v1h-1zM969 756h1v1h-1zM104 757h1v1h-1zM969 757h1v1h-1zM104 758h1v1h-1zM969 758h1v1h-1zM104 759h1v1h-1zM969 759h1v1h-1zM104 760h1v1h-1zM969 760h1v1h-1zM104 761h1v1h-1zM969 761h1v1h-1zM104 762h1v1h-1zM969 762h1v1h-1zM104 763h1v1h-1zM969 763h1v1h-1zM104 764h1v1h-1zM969 764h1v1h-1zM104 765h1v1h-1zM969 765h1v1h-1zM104 766h1v1h-1zM969 766h1v1h-1zM104 767h1v1h-1zM969 767h1v1h-1zM104 768h1v1h-1zM969 768h1v1h-1zM104 769h6v1h-6zM964 769h6v1h-6zM104 770h1v1h-1zM969 770h1v1h-1zM104 771h1v1h-1zM969 771h1v1h-1zM104 772h1v1h-1zM969 772h1v1h-1zM104 773h1v1h-1zM969 773h1v1h-1zM104 774h1v1h-1zM969 774h1v1h-1zM104 775h1v1h-1zM969 775h1v1h-1zM104 776h1v1h-1zM969 776h1v1h-1zM104 777h1v1h-1zM969 777h1v1h-1zM104 778h1v1h-1zM969 778h1v1h-1zM104 779h1v1h-1zM969 779h1v1h-1zM104 780h1v1h-1zM969 780h1v1h-1zM104 781h1v1h-1zM969 781h1v1h-1zM104 782h1v1h-1zM969 782h1v1h-1zM104 783h1v1h-1zM969 783h1v1h-1zM104 784h1v1h-1zM969 784h1v1h-1zM104 785h1v1h-1zM969 785h1v1h-1zM104 786h1v1h-1zM969 786h1v1h-1zM104 787h1v1h-1zM969 787h1v1h-1zM104 788h1v1h-1zM969 788h1v1h-1zM104 789h6v1h-6zM964 789h6v1h-6zM104 790h1v1h-1zM969 790h1v1h-1zM104 791h1v1h-1zM969 791h1v1h-1zM104 792h1v1h-1zM969 792h1v1h-1zM104 793h1v1h-1zM969 793h1v1h-1zM104 794h1v1h-1zM969 794h1v1h-1zM104 795h1v1h-1zM969 795h1v1h-1zM104 796h1v1h-1zM969 796h1v1h-1zM104 797h1v1h-1zM969 797h1v1h-1zM104 798h1v1h-1zM969 798h1v1h-1zM104 799h1v1h-1zM969 799h1v1h-1zM104 800h1v1h-1zM969 800h1v1h-1zM104 801h1v1h-1zM969 801h1v1h-1zM104 802h1v1h-1zM969 802h1v1h-1zM104 803h1v1h-1zM969 803h1v1h-1zM104 804h1v1h-1zM969 804h1v1h-1zM104 805h1v1h-1zM969 805h1v1h-1zM104 806h1v1h-1zM969 806h1v1h-1zM104 807h1v1h-1zM969 807h1v1h-1zM104 808h1v1h-1zM969 808h1v1h-1zM104 809h1v1h-1zM969 809h1v1h-1zM104 810h1v1h-1zM969 810h1v1h-1zM104 811h1v1h-1zM969 811h1v1h-1zM104 812h1v1h-1zM969 812h1v1h-1zM104 813h1v1h-1zM969 813h1v1h-1zM104 814h1v1h-1zM969 814h1v1h-1zM104 815h1v1h-1zM969 815h1v1h-1zM104 816h1v1h-1zM969 816h1v1h-1zM104 817h1v1h-1zM969 817h1v1h-1zM104 818h1v1h-1zM969 818h1v1h-1zM104 819h1v1h-1zM969 819h1v1h-1zM104 820h1v1h-1zM969 820h1v1h-1zM104 821h1v1h-1zM969 821h1v1h-1zM104 822h1v1h-1zM969 822h1v1h-1zM104 823h1v1h-1zM969 823h1v1h-1zM104 824h11v1h-11zM959 824h11v1h-11zM104 825h1v1h-1zM969 825h1v1h-1zM104 826h1v1h-1zM969 826h1v1h-1zM104 827h1v1h-1zM969 827h1v1h-1zM104 828h1v1h-1zM969 828h1v1h-1zM104 829h6v1h-6zM964 829h6v1h-6zM104 830h1v1h-1zM969 830h1v1h-1zM104 831h1v1h-1zM969 831h1v1h-1zM104 832h1v1h-1zM969 832h1v1h-1zM104 833h1v1h-1zM969 833h1v1h-1zM104 834h1v1h-1zM969 834h1v1h-1zM104 835h6v1h-6zM964 835h6v1h-6zM104 836h1v1h-1zM969 836h1v1h-1zM104 837h1v1h-1zM969 837h1v1h-1zM104 838h1v1h-1zM969 838h1v1h-1zM104 839h1v1h-1zM969 839h1v1h-1zM104 840h1v1h-1zM969 840h1v1h-1zM104 841h1v1h-1zM969 841h1v1h-1zM104 842h6v1h-6zM964 842h6v1h-6zM104 843h1v1h-1zM969 843h1v1h-1zM104 844h1v1h-1zM969 844h1v1h-1zM104 845h1v1h-1zM969 845h1v1h-1zM104 846h1v1h-1zM969 846h1v1h-1zM104 847h1v1h-1zM969 847h1v1h-1zM104 848h1v1h-1zM969 848h1v1h-1zM104 849h1v1h-1zM969 849h1v1h-1zM104 850h6v1h-6zM964 850h6v1h-6zM104 851h1v1h-1zM969 851h1v1h-1zM104 852h1v1h-1zM969 852h1v1h-1zM104 853h1v1h-1zM969 853h1v1h-1zM104 854h1v1h-1zM969 854h1v1h-1zM104 855h1v1h-1zM969 855h1v1h-1zM104 856h1v1h-1zM969 856h1v1h-1zM104 857h1v1h-1zM969 857h1v1h-1zM104 858h1v1h-1zM969 858h1v1h-1zM104 859h6v1h-6zM964 859h6v1h-6zM104 860h1v1h-1zM969 860h1v1h-1zM104 861h1v1h-1zM969 861h1v1h-1zM104 862h1v1h-1zM969 862h1v1h-1zM104 863h1v1h-1zM969 863h1v1h-1zM104 864h1v1h-1zM969 864h1v1h-1zM104 865h1v1h-1zM969 865h1v1h-1zM104 866h1v1h-1zM969 866h1v1h-1zM104 867h1v1h-1zM969 867h1v1h-1zM104 868h1v1h-1zM969 868h1v1h-1zM104 869h1v1h-1zM969 869h1v1h-1zM104 870h6v1h-6zM964 870h6v1h-6zM104 871h1v1h-1zM969 871h1v1h-1zM104 872h1v1h-1zM969 872h1v1h-1zM104 873h1v1h-1zM969 873h1v1h-1zM104 874h1v1h-1zM969 874h1v1h-1zM104 875h1v1h-1zM969 875h1v1h-1zM104 876h1v1h-1zM969 876h1v1h-1zM104 877h1v1h-1zM969 877h1v1h-1zM104 878h1v1h-1zM969 878h1v1h-1zM104 879h1v1h-1zM969 879h1v1h-1zM104 880h1v1h-1zM969 880h1v1h-1zM104 881h1v1h-1zM969 881h1v1h-1zM104 882h1v1h-1zM969 882h1v1h-1zM104 883h1v1h-1zM969 883h1v1h-1zM104 884h6v1h-6zM964 884h6v1h-6zM104 885h1v1h-1zM969 885h1v1h-1zM104 886h1v1h-1zM969 886h1v1h-1zM104 887h1v1h-1zM969 887h1v1h-1zM104 888h1v1h-1zM969 888h1v1h-1zM104 889h1v1h-1zM969 889h1v1h-1zM104 890h1v1h-1zM969 890h1v1h-1zM104 891h1v1h-1zM969 891h1v1h-1zM104 892h1v1h-1zM969 892h1v1h-1zM104 893h1v1h-1zM969 893h1v1h-1zM104 894h1v1h-1zM969 894h1v1h-1zM104 895h1v1h-1zM969 895h1v1h-1zM104 896h1v1h-1zM969 896h1v1h-1zM104 897h1v1h-1zM969 897h1v1h-1zM104 898h1v1h-1zM969 898h1v1h-1zM104 899h1v1h-1zM969 899h1v1h-1zM104 900h1v1h-1zM969 900h1v1h-1zM104 901h1v1h-1zM969 901h1v1h-1zM104 902h1v1h-1zM969 902h1v1h-1zM104 903h1v1h-1zM969 903h1v1h-1zM104 904h6v1h-6zM964 904h6v1h-6zM104 905h1v1h-1zM969 905h1v1h-1zM104 906h1v1h-1zM969 906h1v1h-1zM104 907h1v1h-1zM969 907h1v1h-1zM104 908h1v1h-1zM969 908h1v1h-1zM104 909h1v1h-1zM969 909h1v1h-1zM104 910h1v1h-1zM969 910h1v1h-1zM104 911h1v1h-1zM969 911h1v1h-1zM104 912h1v1h-1zM969 912h1v1h-1zM104 913h1v1h-1zM969 913h1v1h-1zM104 914h1v1h-1zM969 914h1v1h-1zM104 915h1v1h-1zM969 915h1v1h-1zM104 916h1v1h-1zM969 916h1v1h-1zM104 917h1v1h-1zM969 917h1v1h-1zM104 918h1v1h-1zM969 918h1v1h-1zM104 919h1v1h-1zM969 919h1v1h-1zM104 920h1v1h-1zM969 920h1v1h-1zM104 921h1v1h-1zM969 921h1v1h-1zM104 922h1v1h-1zM969 922h1v1h-1zM104 923h1v1h-1zM969 923h1v1h-1zM104 924h1v1h-1zM969 924h1v1h-1zM104 925h1v1h-1zM969 925h1v1h-1zM104 926h1v1h-1zM969 926h1v1h-1zM104 927h1v1h-1zM969 927h1v1h-1zM104 928h1v1h-1zM969 928h1v1h-1zM104 929h1v1h-1zM561 929h1v1h-1zM969 929h1v1h-1zM104 930h1v1h-1zM561 930h1v1h-1zM969 930h1v1h-1zM104 931h1v1h-1zM561 931h1v1h-1zM969 931h1v1h-1zM104 932h1v1h-1zM561 932h1v1h-1zM969 932h1v1h-1zM104 933h1v1h-1zM561 933h1v1h-1zM969 933h1v1h-1zM104 934h1v1h-1zM160 934h1v1h-1zM261 934h1v1h-1zM333 934h1v1h-1zM388 934h1v1h-1zM434 934h1v1h-1zM472 934h1v1h-1zM506 934h1v1h-1zM535 934h1v1h-1zM561 934h1v1h-1zM734 934h1v1h-1zM836 934h1v1h-1zM907 934h1v1h-1zM963 934h1v1h-1zM969 934h1v1h-1zM104 935h1v1h-1zM160 935h1v1h-1zM261 935h1v1h-1zM333 935h1v1h-1zM388 935h1v1h-1zM434 935h1v1h-1zM472 935h1v1h-1zM506 935h1v1h-1zM535 935h1v1h-1zM561 935h1v1h-1zM734 935h1v1h-1zM836 935h1v1h-1zM907 935h1v1h-1zM963 935h1v1h-1zM969 935h1v1h-1zM104 936h1v1h-1zM160 936h1v1h-1zM261 936h1v1h-1zM333 936h1v1h-1zM388 936h1v1h-1zM434 936h1v1h-1zM472 936h1v1h-1zM506 936h1v1h-1zM535 936h1v1h-1zM561 936h1v1h-1zM734 936h1v1h-1zM836 936h1v1h-1zM907 936h1v1h-1zM963 936h1v1h-1zM969 936h1v1h-1zM104 937h1v1h-1zM160 937h1v1h-1zM261 937h1v1h-1zM333 937h1v1h-1zM388 937h1v1h-1zM434 937h1v1h-1zM472 937h1v1h-1zM506 937h1v1h-1zM535 937h1v1h-1zM561 937h1v1h-1zM734 937h1v1h-1zM836 937h1v1h-1zM907 937h1v1h-1zM963 937h1v1h-1zM969 937h1v1h-1zM104 938h1v1h-1zM160 938h1v1h-1zM261 938h1v1h-1zM333 938h1v1h-1zM388 938h1v1h-1zM434 938h1v1h-1zM472 938h1v1h-1zM506 938h1v1h-1zM535 938h1v1h-1zM561 938h1v1h-1zM734 938h1v1h-1zM836 938h1v1h-1zM907 938h1v1h-1zM963 938h1v1h-1zM969 938h1v1h-1zM104 939h866v1h-866z"/>
<text x="91" y="24" text-anchor="end">10000</text>
<text x="91" y="139" text-anchor="end">1000</text>
<text x="91" y="254" text-anchor="end">100</text>
<text x="91" y="369" text-anchor="end">10</text>
<text x="91" y="484" text-anchor="end">1</text>
<text x="91" y="599" text-anchor="end">0.1</text>
<text x="91" y="714" text-anchor="end">0.01</text>
<text x="91" y="829" text-anchor="end">0.001</text>
<text x="91" y="944" text-anchor="end">0.0001</text>
<text x="561.3" y="963" text-anchor="middle">100</text>
<text x="535" y="991" text-anchor="middle">Matrixgröße</text>
<text transform="translate(19,479.5) rotate(-90)" text-anchor="middle">Laufzeit in Sekunden</text>
<text x="887" y="44" text-anchor="end">Richardson Iteration v1</text>
<text x="887" y="63" text-anchor="end">Richardson Iteration v2</text>
<text x="885" y="82" text-anchor="end">Jacobi Iteration v1</text>
<text x="885" y="101" text-anchor="end">Jacobi Iteration v2</text>
<text x="886" y="120" text-anchor="end">Gauss Seidel Iteration v1</text>
<text x="886" y="139" text-anchor="end">Gauss Seidel Iteration v2</text>
<text x="886" y="158" text-anchor="end">hdnum::linsolve</text>
<text x="855.7" y="177">c n<tspan font-size="14" x="878.6" y="171">4</tspan></text>
<text x="854.8" y="196">b n<tspan font-size="14" x="878.8" y="190">3</tspan></text>
</svg></body></html>
